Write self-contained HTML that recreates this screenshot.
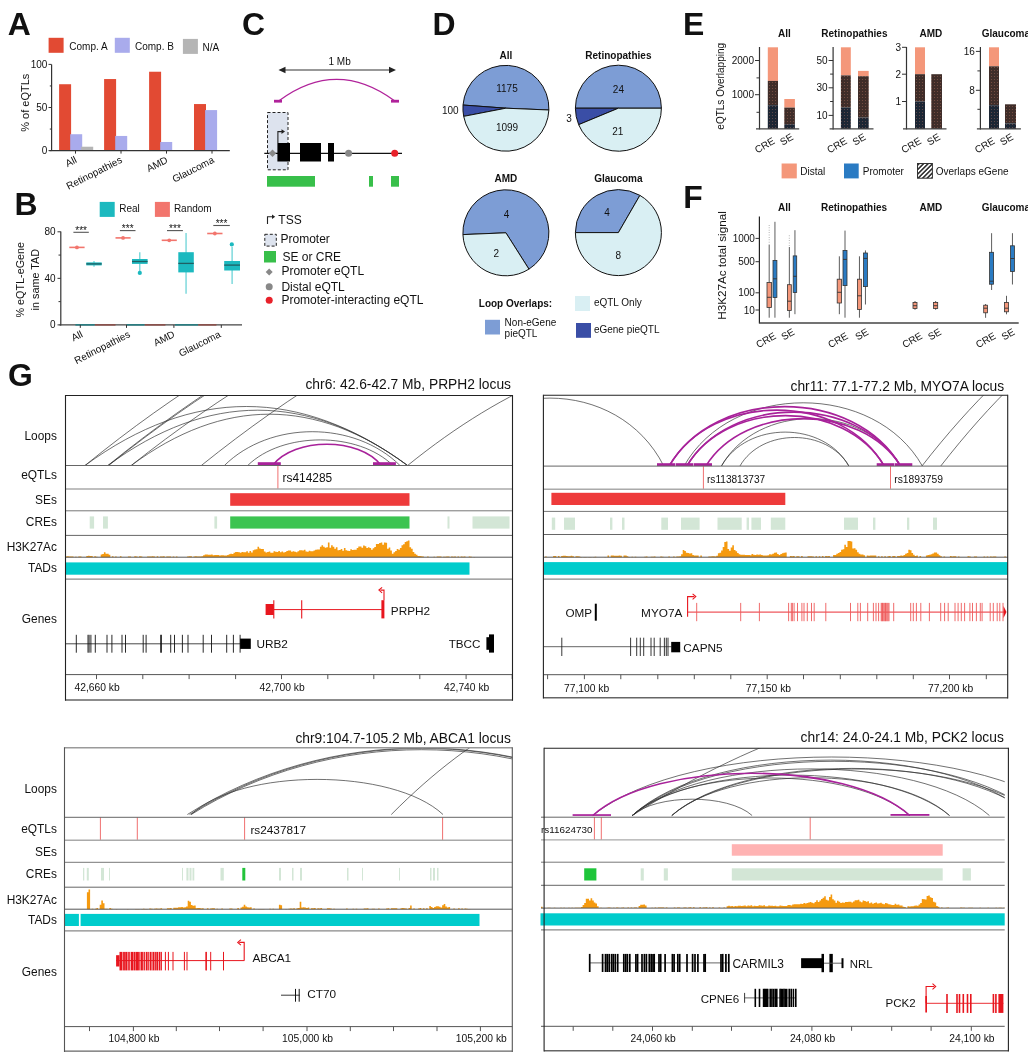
<!DOCTYPE html>
<html><head><meta charset="utf-8"><style>
html,body{margin:0;padding:0;background:#fff;width:1028px;height:1060px;overflow:hidden}
svg{display:block;font-family:"Liberation Sans", sans-serif;will-change:transform}
</style></head><body>
<svg width="1028" height="1060" viewBox="0 0 1028 1060">
<rect x="0" y="0" width="1028" height="1060" fill="#fff"/>
<text x="0" y="0" font-size="31" font-weight="bold" fill="#111" transform="translate(7.80 35.00) scale(1.03 1)">A</text>
<rect x="48.60" y="37.80" width="15.00" height="15.00" fill="#e24a33"/>
<text x="69.30" y="50.30" font-size="10" text-anchor="start" fill="#111">Comp. A</text>
<rect x="114.80" y="37.80" width="15.00" height="15.00" fill="#a9abec"/>
<text x="135.00" y="50.30" font-size="10" text-anchor="start" fill="#111">Comp. B</text>
<rect x="182.90" y="38.90" width="15.00" height="15.00" fill="#b5b5b5"/>
<text x="202.60" y="51.10" font-size="10" text-anchor="start" fill="#111">N/A</text>
<rect x="59.10" y="84.23" width="12.00" height="66.37" fill="#e24a33"/>
<rect x="70.20" y="134.22" width="12.00" height="16.38" fill="#a9abec"/>
<rect x="81.20" y="146.72" width="12.00" height="3.88" fill="#b5b5b5"/>
<rect x="104.10" y="79.05" width="12.00" height="71.55" fill="#e24a33"/>
<rect x="115.20" y="135.95" width="12.00" height="14.65" fill="#a9abec"/>
<rect x="149.10" y="71.73" width="12.00" height="78.87" fill="#e24a33"/>
<rect x="160.20" y="141.98" width="12.00" height="8.62" fill="#a9abec"/>
<rect x="194.00" y="104.05" width="12.00" height="46.55" fill="#e24a33"/>
<rect x="205.10" y="110.09" width="12.00" height="40.51" fill="#a9abec"/>
<line x1="51.60" y1="64.40" x2="51.60" y2="151.10" stroke="#333" stroke-width="1.2"/>
<line x1="49.50" y1="150.60" x2="229.80" y2="150.60" stroke="#333" stroke-width="1.2"/>
<line x1="48.50" y1="150.60" x2="51.60" y2="150.60" stroke="#333" stroke-width="1"/>
<text x="47.40" y="154.10" font-size="10" text-anchor="end" fill="#111">0</text>
<line x1="48.50" y1="107.50" x2="51.60" y2="107.50" stroke="#333" stroke-width="1"/>
<text x="47.40" y="111.00" font-size="10" text-anchor="end" fill="#111">50</text>
<line x1="48.50" y1="64.40" x2="51.60" y2="64.40" stroke="#333" stroke-width="1"/>
<text x="47.40" y="67.90" font-size="10" text-anchor="end" fill="#111">100</text>
<line x1="49.80" y1="129.05" x2="51.60" y2="129.05" stroke="#333" stroke-width="1"/>
<line x1="49.80" y1="85.95" x2="51.60" y2="85.95" stroke="#333" stroke-width="1"/>
<line x1="75.50" y1="150.60" x2="75.50" y2="153.60" stroke="#333" stroke-width="1"/>
<line x1="121.00" y1="150.60" x2="121.00" y2="153.60" stroke="#333" stroke-width="1"/>
<line x1="166.50" y1="150.60" x2="166.50" y2="153.60" stroke="#333" stroke-width="1"/>
<line x1="212.00" y1="150.60" x2="212.00" y2="153.60" stroke="#333" stroke-width="1"/>
<text x="77.50" y="162.10" font-size="10" text-anchor="end" fill="#111" transform="rotate(-27 77.50 162.10)">All</text>
<text x="123.00" y="162.10" font-size="10" text-anchor="end" fill="#111" transform="rotate(-27 123.00 162.10)">Retinopathies</text>
<text x="168.50" y="162.10" font-size="10" text-anchor="end" fill="#111" transform="rotate(-27 168.50 162.10)">AMD</text>
<text x="215.00" y="162.10" font-size="10" text-anchor="end" fill="#111" transform="rotate(-27 215.00 162.10)">Glaucoma</text>
<text x="29.50" y="102.70" font-size="11" text-anchor="middle" fill="#111" transform="rotate(-90 29.50 102.70)">% of eQTLs</text>
<text x="0" y="0" font-size="31" font-weight="bold" fill="#111" transform="translate(14.50 215.30) scale(1.03 1)">B</text>
<rect x="99.70" y="201.90" width="15.00" height="15.00" fill="#1cb9bf"/>
<text x="119.20" y="212.30" font-size="10" text-anchor="start" fill="#111">Real</text>
<rect x="154.90" y="201.90" width="15.00" height="15.00" fill="#f2756d"/>
<text x="173.90" y="212.30" font-size="10" text-anchor="start" fill="#111">Random</text>
<line x1="60.80" y1="231.50" x2="60.80" y2="325.50" stroke="#333" stroke-width="1.2"/>
<line x1="59.50" y1="324.90" x2="242.00" y2="324.90" stroke="#444" stroke-width="1.2"/>
<line x1="75.40" y1="324.90" x2="94.80" y2="324.90" stroke="#1b7f84" stroke-width="1.4"/>
<line x1="94.80" y1="324.90" x2="115.50" y2="324.90" stroke="#8f4a44" stroke-width="1.4"/>
<line x1="126.50" y1="324.90" x2="144.70" y2="324.90" stroke="#1b7f84" stroke-width="1.4"/>
<line x1="144.70" y1="324.90" x2="165.40" y2="324.90" stroke="#8f4a44" stroke-width="1.4"/>
<line x1="175.00" y1="324.90" x2="198.20" y2="324.90" stroke="#1b7f84" stroke-width="1.4"/>
<line x1="198.20" y1="324.90" x2="216.40" y2="324.90" stroke="#8f4a44" stroke-width="1.4"/>
<line x1="57.50" y1="324.90" x2="60.80" y2="324.90" stroke="#333" stroke-width="1"/>
<text x="55.60" y="328.40" font-size="10" text-anchor="end" fill="#111">0</text>
<line x1="57.50" y1="278.35" x2="60.80" y2="278.35" stroke="#333" stroke-width="1"/>
<text x="55.60" y="281.85" font-size="10" text-anchor="end" fill="#111">40</text>
<line x1="57.50" y1="231.80" x2="60.80" y2="231.80" stroke="#333" stroke-width="1"/>
<text x="55.60" y="235.30" font-size="10" text-anchor="end" fill="#111">80</text>
<line x1="58.50" y1="301.62" x2="60.80" y2="301.62" stroke="#333" stroke-width="1"/>
<line x1="58.50" y1="255.07" x2="60.80" y2="255.07" stroke="#333" stroke-width="1"/>
<line x1="80.30" y1="324.90" x2="80.30" y2="327.90" stroke="#333" stroke-width="1"/>
<line x1="126.50" y1="324.90" x2="126.50" y2="327.90" stroke="#333" stroke-width="1"/>
<line x1="173.90" y1="324.90" x2="173.90" y2="327.90" stroke="#333" stroke-width="1"/>
<line x1="221.30" y1="324.90" x2="221.30" y2="327.90" stroke="#333" stroke-width="1"/>
<line x1="69.30" y1="247.40" x2="84.60" y2="247.40" stroke="#f2756d" stroke-width="1.6"/>
<circle cx="76.95" cy="247.40" r="1.90" fill="#f2756d"/>
<line x1="115.50" y1="237.90" x2="130.60" y2="237.90" stroke="#f2756d" stroke-width="1.6"/>
<circle cx="123.05" cy="237.90" r="1.90" fill="#f2756d"/>
<line x1="161.70" y1="240.30" x2="176.80" y2="240.30" stroke="#f2756d" stroke-width="1.6"/>
<circle cx="169.25" cy="240.30" r="1.90" fill="#f2756d"/>
<line x1="207.20" y1="233.50" x2="222.50" y2="233.50" stroke="#f2756d" stroke-width="1.6"/>
<circle cx="214.85" cy="233.50" r="1.90" fill="#f2756d"/>
<line x1="94.00" y1="261.00" x2="94.00" y2="266.80" stroke="#5fd0d4" stroke-width="1.2"/>
<rect x="86.30" y="262.40" width="15.40" height="3.00" fill="#1cb9bf"/>
<line x1="86.30" y1="263.90" x2="101.70" y2="263.90" stroke="#1f5f63" stroke-width="1.3"/>
<line x1="139.80" y1="252.20" x2="139.80" y2="271.20" stroke="#5fd0d4" stroke-width="1.2"/>
<rect x="132.00" y="259.00" width="15.60" height="4.90" fill="#1cb9bf"/>
<line x1="132.00" y1="261.50" x2="147.60" y2="261.50" stroke="#1f5f63" stroke-width="1.3"/>
<circle cx="139.80" cy="272.90" r="2.10" fill="#1cb9bf"/>
<line x1="186.05" y1="233.00" x2="186.05" y2="293.80" stroke="#5fd0d4" stroke-width="1.2"/>
<rect x="178.30" y="252.20" width="15.50" height="20.20" fill="#1cb9bf"/>
<line x1="178.30" y1="263.40" x2="193.80" y2="263.40" stroke="#1f5f63" stroke-width="1.3"/>
<line x1="232.10" y1="246.90" x2="232.10" y2="284.10" stroke="#5fd0d4" stroke-width="1.2"/>
<rect x="224.20" y="261.00" width="15.80" height="9.50" fill="#1cb9bf"/>
<line x1="224.20" y1="265.10" x2="240.00" y2="265.10" stroke="#1f5f63" stroke-width="1.3"/>
<circle cx="231.80" cy="244.40" r="2.10" fill="#1cb9bf"/>
<line x1="73.40" y1="232.30" x2="88.80" y2="232.30" stroke="#555" stroke-width="1.1"/>
<text x="81.10" y="233.50" font-size="10" text-anchor="middle" fill="#111">***</text>
<line x1="119.90" y1="230.60" x2="135.50" y2="230.60" stroke="#555" stroke-width="1.1"/>
<text x="127.70" y="231.80" font-size="10" text-anchor="middle" fill="#111">***</text>
<line x1="167.00" y1="230.60" x2="182.90" y2="230.60" stroke="#555" stroke-width="1.1"/>
<text x="174.95" y="231.80" font-size="10" text-anchor="middle" fill="#111">***</text>
<line x1="213.30" y1="225.50" x2="229.80" y2="225.50" stroke="#555" stroke-width="1.1"/>
<text x="221.55" y="226.70" font-size="10" text-anchor="middle" fill="#111">***</text>
<text x="83.50" y="336.40" font-size="10" text-anchor="end" fill="#111" transform="rotate(-27 83.50 336.40)">All</text>
<text x="131.00" y="336.40" font-size="10" text-anchor="end" fill="#111" transform="rotate(-27 131.00 336.40)">Retinopathies</text>
<text x="175.50" y="336.40" font-size="10" text-anchor="end" fill="#111" transform="rotate(-27 175.50 336.40)">AMD</text>
<text x="221.50" y="336.40" font-size="10" text-anchor="end" fill="#111" transform="rotate(-27 221.50 336.40)">Glaucoma</text>
<text x="24.50" y="279.70" font-size="10.8" text-anchor="middle" fill="#111" transform="rotate(-90 24.50 279.70)">% eQTL-eGene</text>
<text x="39.00" y="279.70" font-size="10.8" text-anchor="middle" fill="#111" transform="rotate(-90 39.00 279.70)">in same TAD</text>
<text x="0" y="0" font-size="31" font-weight="bold" fill="#111" transform="translate(242.00 35.00) scale(1.03 1)">C</text>
<text x="339.60" y="65.30" font-size="10" text-anchor="middle" fill="#111">1 Mb</text>
<line x1="282.00" y1="70.00" x2="392.50" y2="70.00" stroke="#333" stroke-width="1.1"/>
<path d="M278.5,70 L285.5,66.8 L285.5,73.2 Z" stroke="none" stroke-width="1" fill="#222"/>
<path d="M396,70 L389,66.8 L389,73.2 Z" stroke="none" stroke-width="1" fill="#222"/>
<path d="M279,100.8 Q336.5,58 394.5,100.8" stroke="#b0229a" stroke-width="1.2" fill="none"/>
<rect x="274.00" y="99.80" width="8.00" height="2.80" fill="#b0229a"/>
<rect x="391.00" y="99.80" width="8.00" height="2.80" fill="#b0229a"/>
<rect x="267.50" y="112.50" width="20.50" height="57.30" fill="#dde3ee" stroke="#222" stroke-width="1" stroke-dasharray="3,2"/>
<line x1="264.30" y1="153.30" x2="402.00" y2="153.30" stroke="#111" stroke-width="1.3"/>
<rect x="277.40" y="143.00" width="12.60" height="18.50" fill="#000"/>
<rect x="300.00" y="143.00" width="21.00" height="18.50" fill="#000"/>
<rect x="328.00" y="143.00" width="6.00" height="18.50" fill="#000"/>
<path d="M277.9,143 L277.9,131.6 L282.5,131.6" stroke="#222" stroke-width="1.1" fill="none"/>
<path d="M285,131.6 L281.5,129.2 L281.5,134 Z" stroke="none" stroke-width="1" fill="#222"/>
<path d="M272.5,149.6 L276.2,153.3 L272.5,157 L268.8,153.3 Z" stroke="none" stroke-width="1" fill="#888"/>
<circle cx="348.60" cy="153.30" r="3.50" fill="#888"/>
<circle cx="394.70" cy="153.30" r="3.50" fill="#e8212a"/>
<rect x="267.00" y="176.00" width="48.00" height="10.70" fill="#38bf4a"/>
<rect x="369.00" y="176.00" width="4.00" height="10.70" fill="#38bf4a"/>
<rect x="391.00" y="176.00" width="8.00" height="10.70" fill="#38bf4a"/>
<path d="M267.5,224 L267.5,216.8 L273,216.8" stroke="#222" stroke-width="1.1" fill="none"/>
<path d="M275.2,216.8 L272,214.6 L272,219 Z" stroke="none" stroke-width="1" fill="#222"/>
<text x="278.30" y="223.80" font-size="12" text-anchor="start" fill="#111">TSS</text>
<rect x="264.80" y="234.30" width="11.50" height="11.80" fill="#dde3ee" stroke="#222" stroke-width="1" stroke-dasharray="3,2"/>
<text x="280.50" y="242.70" font-size="12" text-anchor="start" fill="#111">Promoter</text>
<rect x="264.00" y="251.00" width="12.00" height="11.50" fill="#38bf4a"/>
<text x="282.40" y="260.60" font-size="12" text-anchor="start" fill="#111">SE or CRE</text>
<path d="M269.2,268.4 L272.7,271.9 L269.2,275.4 L265.7,271.9 Z" stroke="none" stroke-width="1" fill="#888"/>
<text x="281.40" y="274.80" font-size="12" text-anchor="start" fill="#111">Promoter eQTL</text>
<circle cx="269.20" cy="286.80" r="3.50" fill="#888"/>
<text x="281.40" y="290.70" font-size="12" text-anchor="start" fill="#111">Distal eQTL</text>
<circle cx="269.20" cy="300.20" r="3.50" fill="#e8212a"/>
<text x="281.40" y="304.20" font-size="12" text-anchor="start" fill="#111">Promoter-interacting eQTL</text>
<text x="0" y="0" font-size="31" font-weight="bold" fill="#111" transform="translate(432.50 35.00) scale(1.03 1)">D</text>
<text x="505.90" y="58.70" font-size="10" text-anchor="middle" fill="#111" font-weight="bold">All</text>
<text x="618.40" y="58.70" font-size="10" text-anchor="middle" fill="#111" font-weight="bold">Retinopathies</text>
<path d="M505.90,108.20 L548.86,110.00 A43,43 0 0 0 463.02,105.04 Z" stroke="#111" stroke-width="1" fill="#7d9dd5"/>
<path d="M505.90,108.20 L463.02,105.04 A43,43 0 0 0 463.68,116.36 Z" stroke="#111" stroke-width="1" fill="#3a4ea6"/>
<path d="M505.90,108.20 L463.68,116.36 A43,43 0 0 0 548.86,110.00 Z" stroke="#111" stroke-width="1" fill="#d9eff3"/>
<path d="M618.40,108.20 L661.40,108.20 A43,43 0 0 0 575.40,108.20 Z" stroke="#111" stroke-width="1" fill="#7d9dd5"/>
<path d="M618.40,108.20 L575.40,108.20 A43,43 0 0 0 578.67,124.66 Z" stroke="#111" stroke-width="1" fill="#3a4ea6"/>
<path d="M618.40,108.20 L578.67,124.66 A43,43 0 0 0 661.40,108.20 Z" stroke="#111" stroke-width="1" fill="#d9eff3"/>
<text x="507.00" y="91.60" font-size="10" text-anchor="middle" fill="#111">1175</text>
<text x="507.00" y="130.80" font-size="10" text-anchor="middle" fill="#111">1099</text>
<text x="458.60" y="114.30" font-size="10" text-anchor="end" fill="#111">100</text>
<text x="618.40" y="92.80" font-size="10" text-anchor="middle" fill="#111">24</text>
<text x="617.70" y="134.80" font-size="10" text-anchor="middle" fill="#111">21</text>
<text x="569.00" y="121.90" font-size="10" text-anchor="middle" fill="#111">3</text>
<text x="505.90" y="181.50" font-size="10" text-anchor="middle" fill="#111" font-weight="bold">AMD</text>
<text x="618.40" y="181.50" font-size="10" text-anchor="middle" fill="#111" font-weight="bold">Glaucoma</text>
<path d="M505.90,232.80 L528.94,269.11 A43,43 0 1 0 462.94,234.60 Z" stroke="#111" stroke-width="1" fill="#7d9dd5"/>
<path d="M505.90,232.80 L462.94,234.60 A43,43 0 0 0 528.94,269.11 Z" stroke="#111" stroke-width="1" fill="#d9eff3"/>
<path d="M618.40,232.60 L639.90,195.36 A43,43 0 0 0 575.40,232.60 Z" stroke="#111" stroke-width="1" fill="#7d9dd5"/>
<path d="M618.40,232.60 L575.40,232.60 A43,43 0 1 0 639.90,195.36 Z" stroke="#111" stroke-width="1" fill="#d9eff3"/>
<text x="506.60" y="217.70" font-size="10" text-anchor="middle" fill="#111">4</text>
<text x="496.30" y="256.90" font-size="10" text-anchor="middle" fill="#111">2</text>
<text x="607.00" y="215.60" font-size="10" text-anchor="middle" fill="#111">4</text>
<text x="618.40" y="259.40" font-size="10" text-anchor="middle" fill="#111">8</text>
<text x="478.80" y="306.70" font-size="10" text-anchor="start" fill="#111" font-weight="bold">Loop Overlaps:</text>
<rect x="575.00" y="296.00" width="15.00" height="15.00" fill="#d9eff3"/>
<text x="593.90" y="306.20" font-size="10" text-anchor="start" fill="#111">eQTL Only</text>
<rect x="485.00" y="319.80" width="15.00" height="14.70" fill="#7d9dd5"/>
<text x="504.60" y="325.70" font-size="10" text-anchor="start" fill="#111">Non-eGene</text>
<text x="504.60" y="337.00" font-size="10" text-anchor="start" fill="#111">pieQTL</text>
<rect x="576.00" y="323.00" width="15.00" height="14.80" fill="#3a4ea6"/>
<text x="593.90" y="332.70" font-size="10" text-anchor="start" fill="#111">eGene pieQTL</text>
<defs><pattern id="hatch" width="3" height="3" patternUnits="userSpaceOnUse"><rect x="0" y="0" width="3" height="3" fill="none"/><circle cx="1.5" cy="1.5" r="0.55" fill="rgba(240,150,120,0.35)"/></pattern><pattern id="hatchL" width="3.2" height="3.2" patternUnits="userSpaceOnUse" patternTransform="rotate(45)"><rect width="3.2" height="3.2" fill="#fff"/><rect x="0" y="0" width="1.6" height="3.2" fill="#333"/></pattern></defs>
<text x="0" y="0" font-size="31" font-weight="bold" fill="#111" transform="translate(683.00 35.00) scale(1.03 1)">E</text>
<text x="724.50" y="86.30" font-size="10" text-anchor="middle" fill="#111" transform="rotate(-90 724.50 86.30)">eQTLs Overlapping</text>
<text x="784.30" y="36.60" font-size="10" text-anchor="middle" fill="#111" font-weight="bold">All</text>
<text x="854.40" y="36.60" font-size="10" text-anchor="middle" fill="#111" font-weight="bold">Retinopathies</text>
<text x="930.80" y="36.60" font-size="10" text-anchor="middle" fill="#111" font-weight="bold">AMD</text>
<text x="981.70" y="36.60" font-size="10" text-anchor="start" fill="#111" font-weight="bold">Glaucoma</text>
<rect x="767.80" y="47.30" width="10.20" height="33.60" fill="#f4977a"/>
<rect x="767.80" y="80.90" width="10.20" height="24.30" fill="#3f2d29"/>
<rect x="767.80" y="105.20" width="10.20" height="23.70" fill="#1c2634"/>
<rect x="767.80" y="80.90" width="10.20" height="48.00" fill="url(#hatch)"/>
<rect x="784.30" y="99.00" width="10.60" height="8.60" fill="#f4977a"/>
<rect x="784.30" y="107.60" width="10.60" height="16.60" fill="#3f2d29"/>
<rect x="784.30" y="124.20" width="10.60" height="4.70" fill="#1c2634"/>
<rect x="784.30" y="107.60" width="10.60" height="21.30" fill="url(#hatch)"/>
<line x1="759.50" y1="47.00" x2="759.50" y2="129.40" stroke="#333" stroke-width="1.2"/>
<line x1="756.00" y1="128.90" x2="799.20" y2="128.90" stroke="#444" stroke-width="1.4"/>
<line x1="755.00" y1="60.50" x2="759.50" y2="60.50" stroke="#333" stroke-width="1"/>
<text x="754.00" y="64.00" font-size="10" text-anchor="end" fill="#111">2000</text>
<line x1="755.00" y1="94.70" x2="759.50" y2="94.70" stroke="#333" stroke-width="1"/>
<text x="754.00" y="98.20" font-size="10" text-anchor="end" fill="#111">1000</text>
<line x1="756.50" y1="77.90" x2="759.50" y2="77.90" stroke="#333" stroke-width="1"/>
<line x1="756.50" y1="112.30" x2="759.50" y2="112.30" stroke="#333" stroke-width="1"/>
<rect x="840.90" y="47.30" width="9.90" height="28.10" fill="#f4977a"/>
<rect x="840.90" y="75.40" width="9.90" height="32.20" fill="#3f2d29"/>
<rect x="840.90" y="107.60" width="9.90" height="21.30" fill="#1c2634"/>
<rect x="840.90" y="75.40" width="9.90" height="53.50" fill="url(#hatch)"/>
<rect x="858.00" y="70.90" width="10.70" height="5.30" fill="#f4977a"/>
<rect x="858.00" y="76.20" width="10.70" height="41.40" fill="#3f2d29"/>
<rect x="858.00" y="117.60" width="10.70" height="11.30" fill="#1c2634"/>
<rect x="858.00" y="76.20" width="10.70" height="52.70" fill="url(#hatch)"/>
<line x1="833.10" y1="47.00" x2="833.10" y2="129.40" stroke="#333" stroke-width="1.2"/>
<line x1="829.60" y1="128.90" x2="873.50" y2="128.90" stroke="#444" stroke-width="1.4"/>
<line x1="828.60" y1="60.50" x2="833.10" y2="60.50" stroke="#333" stroke-width="1"/>
<text x="827.60" y="64.00" font-size="10" text-anchor="end" fill="#111">50</text>
<line x1="828.60" y1="87.80" x2="833.10" y2="87.80" stroke="#333" stroke-width="1"/>
<text x="827.60" y="91.30" font-size="10" text-anchor="end" fill="#111">30</text>
<line x1="828.60" y1="115.40" x2="833.10" y2="115.40" stroke="#333" stroke-width="1"/>
<text x="827.60" y="118.90" font-size="10" text-anchor="end" fill="#111">10</text>
<line x1="830.10" y1="74.10" x2="833.10" y2="74.10" stroke="#333" stroke-width="1"/>
<line x1="830.10" y1="101.50" x2="833.10" y2="101.50" stroke="#333" stroke-width="1"/>
<rect x="915.00" y="47.30" width="10.00" height="26.90" fill="#f4977a"/>
<rect x="915.00" y="74.20" width="10.00" height="27.30" fill="#3f2d29"/>
<rect x="915.00" y="101.50" width="10.00" height="27.40" fill="#1c2634"/>
<rect x="915.00" y="74.20" width="10.00" height="54.70" fill="url(#hatch)"/>
<rect x="931.30" y="74.20" width="10.70" height="54.70" fill="#3f2d29"/>
<rect x="931.30" y="74.20" width="10.70" height="54.70" fill="url(#hatch)"/>
<line x1="906.50" y1="47.00" x2="906.50" y2="129.40" stroke="#333" stroke-width="1.2"/>
<line x1="903.00" y1="128.90" x2="946.50" y2="128.90" stroke="#444" stroke-width="1.4"/>
<line x1="902.00" y1="47.30" x2="906.50" y2="47.30" stroke="#333" stroke-width="1"/>
<text x="901.00" y="50.80" font-size="10" text-anchor="end" fill="#111">3</text>
<line x1="902.00" y1="74.20" x2="906.50" y2="74.20" stroke="#333" stroke-width="1"/>
<text x="901.00" y="77.70" font-size="10" text-anchor="end" fill="#111">2</text>
<line x1="902.00" y1="101.50" x2="906.50" y2="101.50" stroke="#333" stroke-width="1"/>
<text x="901.00" y="105.00" font-size="10" text-anchor="end" fill="#111">1</text>
<rect x="989.00" y="47.30" width="10.00" height="19.00" fill="#f4977a"/>
<rect x="989.00" y="66.30" width="10.00" height="38.90" fill="#3f2d29"/>
<rect x="989.00" y="105.20" width="10.00" height="23.70" fill="#1c2634"/>
<rect x="989.00" y="66.30" width="10.00" height="62.60" fill="url(#hatch)"/>
<rect x="1005.00" y="104.30" width="11.00" height="19.10" fill="#3f2d29"/>
<rect x="1005.00" y="123.40" width="11.00" height="5.50" fill="#1c2634"/>
<rect x="1005.00" y="104.30" width="11.00" height="24.60" fill="url(#hatch)"/>
<line x1="980.40" y1="47.00" x2="980.40" y2="129.40" stroke="#333" stroke-width="1.2"/>
<line x1="976.90" y1="128.90" x2="1020.90" y2="128.90" stroke="#444" stroke-width="1.4"/>
<line x1="975.90" y1="51.40" x2="980.40" y2="51.40" stroke="#333" stroke-width="1"/>
<text x="974.90" y="54.90" font-size="10" text-anchor="end" fill="#111">16</text>
<line x1="975.90" y1="90.30" x2="980.40" y2="90.30" stroke="#333" stroke-width="1"/>
<text x="974.90" y="93.80" font-size="10" text-anchor="end" fill="#111">8</text>
<line x1="977.40" y1="70.90" x2="980.40" y2="70.90" stroke="#333" stroke-width="1"/>
<line x1="977.40" y1="109.30" x2="980.40" y2="109.30" stroke="#333" stroke-width="1"/>
<text x="775.50" y="143.00" font-size="10" text-anchor="end" fill="#111" transform="rotate(-30 775.50 143.00)">CRE</text>
<text x="794.00" y="139.00" font-size="10" text-anchor="end" fill="#111" transform="rotate(-30 794.00 139.00)">SE</text>
<text x="847.80" y="143.00" font-size="10" text-anchor="end" fill="#111" transform="rotate(-30 847.80 143.00)">CRE</text>
<text x="866.50" y="139.00" font-size="10" text-anchor="end" fill="#111" transform="rotate(-30 866.50 139.00)">SE</text>
<text x="922.00" y="143.00" font-size="10" text-anchor="end" fill="#111" transform="rotate(-30 922.00 143.00)">CRE</text>
<text x="941.00" y="139.00" font-size="10" text-anchor="end" fill="#111" transform="rotate(-30 941.00 139.00)">SE</text>
<text x="995.50" y="143.00" font-size="10" text-anchor="end" fill="#111" transform="rotate(-30 995.50 143.00)">CRE</text>
<text x="1014.00" y="139.00" font-size="10" text-anchor="end" fill="#111" transform="rotate(-30 1014.00 139.00)">SE</text>
<rect x="781.60" y="163.50" width="15.20" height="14.90" fill="#f4977a"/>
<text x="800.20" y="175.30" font-size="10" text-anchor="start" fill="#111">Distal</text>
<rect x="844.00" y="163.50" width="14.70" height="14.90" fill="#2a7bc3"/>
<text x="862.80" y="175.30" font-size="10" text-anchor="start" fill="#111">Promoter</text>
<rect x="917.50" y="163.50" width="14.90" height="14.70" fill="url(#hatchL)" stroke="#333" stroke-width="1"/>
<text x="935.70" y="175.30" font-size="10" text-anchor="start" fill="#111">Overlaps eGene</text>
<text x="0" y="0" font-size="31" font-weight="bold" fill="#111" transform="translate(683.30 208.30) scale(1.03 1)">F</text>
<text x="725.80" y="265.50" font-size="11.7" text-anchor="middle" fill="#111" transform="rotate(-90 725.80 265.50)">H3K27Ac total signal</text>
<text x="784.50" y="211.00" font-size="10" text-anchor="middle" fill="#111" font-weight="bold">All</text>
<text x="821.00" y="211.00" font-size="10" text-anchor="start" fill="#111" font-weight="bold">Retinopathies</text>
<text x="930.80" y="211.00" font-size="10" text-anchor="middle" fill="#111" font-weight="bold">AMD</text>
<text x="981.70" y="211.00" font-size="10" text-anchor="start" fill="#111" font-weight="bold">Glaucoma</text>
<line x1="769.20" y1="245.00" x2="769.20" y2="317.70" stroke="#333" stroke-width="0.8"/>
<rect x="767.00" y="282.50" width="4.40" height="24.90" fill="#f4977a" stroke="#333" stroke-width="0.8"/>
<line x1="767.00" y1="297.30" x2="771.40" y2="297.30" stroke="#333" stroke-width="0.9"/>
<line x1="774.95" y1="221.80" x2="774.95" y2="317.70" stroke="#333" stroke-width="0.8"/>
<rect x="773.00" y="260.40" width="3.90" height="37.10" fill="#2a7bc3" stroke="#333" stroke-width="0.8"/>
<line x1="773.00" y1="278.80" x2="776.90" y2="278.80" stroke="#333" stroke-width="0.9"/>
<line x1="789.35" y1="247.00" x2="789.35" y2="317.70" stroke="#333" stroke-width="0.8"/>
<rect x="787.40" y="284.70" width="3.90" height="25.70" fill="#f4977a" stroke="#333" stroke-width="0.8"/>
<line x1="787.40" y1="301.20" x2="791.30" y2="301.20" stroke="#333" stroke-width="0.9"/>
<line x1="794.95" y1="230.20" x2="794.95" y2="314.20" stroke="#333" stroke-width="0.8"/>
<rect x="793.20" y="255.90" width="3.50" height="36.60" fill="#2a7bc3" stroke="#333" stroke-width="0.8"/>
<line x1="793.20" y1="276.30" x2="796.70" y2="276.30" stroke="#333" stroke-width="0.9"/>
<line x1="839.35" y1="256.30" x2="839.35" y2="314.20" stroke="#333" stroke-width="0.8"/>
<rect x="837.20" y="279.20" width="4.30" height="23.80" fill="#f4977a" stroke="#333" stroke-width="0.8"/>
<line x1="837.20" y1="292.30" x2="841.50" y2="292.30" stroke="#333" stroke-width="0.9"/>
<line x1="845.00" y1="230.60" x2="845.00" y2="317.70" stroke="#333" stroke-width="0.8"/>
<rect x="843.00" y="250.40" width="4.00" height="35.20" fill="#2a7bc3" stroke="#333" stroke-width="0.8"/>
<line x1="843.00" y1="259.40" x2="847.00" y2="259.40" stroke="#333" stroke-width="0.9"/>
<line x1="859.45" y1="256.30" x2="859.45" y2="317.70" stroke="#333" stroke-width="0.8"/>
<rect x="857.40" y="279.20" width="4.10" height="30.20" fill="#f4977a" stroke="#333" stroke-width="0.8"/>
<line x1="857.40" y1="295.80" x2="861.50" y2="295.80" stroke="#333" stroke-width="0.9"/>
<line x1="865.45" y1="250.40" x2="865.45" y2="304.50" stroke="#333" stroke-width="0.8"/>
<rect x="863.50" y="253.00" width="3.90" height="33.60" fill="#2a7bc3" stroke="#333" stroke-width="0.8"/>
<line x1="863.50" y1="258.40" x2="867.40" y2="258.40" stroke="#333" stroke-width="0.9"/>
<line x1="915.00" y1="301.00" x2="915.00" y2="309.80" stroke="#333" stroke-width="0.8"/>
<rect x="913.00" y="302.40" width="4.00" height="6.10" fill="#f4977a" stroke="#333" stroke-width="0.8"/>
<line x1="913.00" y1="305.70" x2="917.00" y2="305.70" stroke="#333" stroke-width="0.9"/>
<line x1="935.65" y1="301.00" x2="935.65" y2="309.80" stroke="#333" stroke-width="0.8"/>
<rect x="933.60" y="302.40" width="4.10" height="6.10" fill="#f4977a" stroke="#333" stroke-width="0.8"/>
<line x1="933.60" y1="305.70" x2="937.70" y2="305.70" stroke="#333" stroke-width="0.9"/>
<line x1="985.60" y1="304.00" x2="985.60" y2="317.80" stroke="#333" stroke-width="0.8"/>
<rect x="983.70" y="305.20" width="3.80" height="7.60" fill="#f4977a" stroke="#333" stroke-width="0.8"/>
<line x1="983.70" y1="308.20" x2="987.50" y2="308.20" stroke="#333" stroke-width="0.9"/>
<line x1="991.60" y1="233.20" x2="991.60" y2="290.00" stroke="#333" stroke-width="0.8"/>
<rect x="989.60" y="252.30" width="4.00" height="31.90" fill="#2a7bc3" stroke="#333" stroke-width="0.8"/>
<line x1="989.60" y1="281.20" x2="993.60" y2="281.20" stroke="#333" stroke-width="0.9"/>
<line x1="1006.50" y1="295.80" x2="1006.50" y2="314.30" stroke="#333" stroke-width="0.8"/>
<rect x="1004.50" y="302.40" width="4.00" height="9.40" fill="#f4977a" stroke="#333" stroke-width="0.8"/>
<line x1="1004.50" y1="308.20" x2="1008.50" y2="308.20" stroke="#333" stroke-width="0.9"/>
<line x1="1012.45" y1="233.20" x2="1012.45" y2="284.50" stroke="#333" stroke-width="0.8"/>
<rect x="1010.50" y="245.80" width="3.90" height="25.70" fill="#2a7bc3" stroke="#333" stroke-width="0.8"/>
<line x1="1010.50" y1="258.50" x2="1014.40" y2="258.50" stroke="#333" stroke-width="0.9"/>
<line x1="769.20" y1="225.00" x2="769.20" y2="245.00" stroke="#999" stroke-width="0.9" stroke-dasharray="0.8,1.6"/>
<line x1="789.30" y1="235.40" x2="789.30" y2="247.00" stroke="#999" stroke-width="0.9" stroke-dasharray="0.8,1.6"/>
<line x1="759.40" y1="216.50" x2="759.40" y2="323.50" stroke="#222" stroke-width="1.2"/>
<line x1="759.40" y1="323.00" x2="1018.70" y2="323.00" stroke="#444" stroke-width="1.3"/>
<line x1="755.50" y1="238.40" x2="759.40" y2="238.40" stroke="#333" stroke-width="1"/>
<text x="754.90" y="241.90" font-size="10" text-anchor="end" fill="#111">1000</text>
<line x1="755.50" y1="261.70" x2="759.40" y2="261.70" stroke="#333" stroke-width="1"/>
<text x="754.90" y="265.20" font-size="10" text-anchor="end" fill="#111">500</text>
<line x1="755.50" y1="292.80" x2="759.40" y2="292.80" stroke="#333" stroke-width="1"/>
<text x="754.90" y="296.30" font-size="10" text-anchor="end" fill="#111">100</text>
<line x1="755.50" y1="310.00" x2="759.40" y2="310.00" stroke="#333" stroke-width="1"/>
<text x="754.90" y="313.50" font-size="10" text-anchor="end" fill="#111">10</text>
<text x="776.80" y="337.80" font-size="10" text-anchor="end" fill="#111" transform="rotate(-30 776.80 337.80)">CRE</text>
<text x="795.30" y="333.80" font-size="10" text-anchor="end" fill="#111" transform="rotate(-30 795.30 333.80)">SE</text>
<text x="848.80" y="337.80" font-size="10" text-anchor="end" fill="#111" transform="rotate(-30 848.80 337.80)">CRE</text>
<text x="869.20" y="333.80" font-size="10" text-anchor="end" fill="#111" transform="rotate(-30 869.20 333.80)">SE</text>
<text x="923.00" y="337.80" font-size="10" text-anchor="end" fill="#111" transform="rotate(-30 923.00 337.80)">CRE</text>
<text x="942.00" y="333.80" font-size="10" text-anchor="end" fill="#111" transform="rotate(-30 942.00 333.80)">SE</text>
<text x="996.50" y="337.80" font-size="10" text-anchor="end" fill="#111" transform="rotate(-30 996.50 337.80)">CRE</text>
<text x="1015.60" y="333.80" font-size="10" text-anchor="end" fill="#111" transform="rotate(-30 1015.60 333.80)">SE</text>
<text x="0" y="0" font-size="31" font-weight="bold" fill="#111" transform="translate(8.00 386.00) scale(1.03 1)">G</text>
<text x="56.90" y="440.40" font-size="11.9" text-anchor="end" fill="#111">Loops</text>
<text x="56.90" y="479.20" font-size="11.9" text-anchor="end" fill="#111">eQTLs</text>
<text x="56.90" y="503.60" font-size="11.9" text-anchor="end" fill="#111">SEs</text>
<text x="56.90" y="526.20" font-size="11.9" text-anchor="end" fill="#111">CREs</text>
<text x="56.90" y="550.70" font-size="11.9" text-anchor="end" fill="#111">H3K27Ac</text>
<text x="56.90" y="572.20" font-size="11.9" text-anchor="end" fill="#111">TADs</text>
<text x="56.90" y="622.70" font-size="11.9" text-anchor="end" fill="#111">Genes</text>
<text x="56.90" y="793.00" font-size="11.9" text-anchor="end" fill="#111">Loops</text>
<text x="56.90" y="832.50" font-size="11.9" text-anchor="end" fill="#111">eQTLs</text>
<text x="56.90" y="855.70" font-size="11.9" text-anchor="end" fill="#111">SEs</text>
<text x="56.90" y="878.00" font-size="11.9" text-anchor="end" fill="#111">CREs</text>
<text x="56.90" y="903.80" font-size="11.9" text-anchor="end" fill="#111">H3K27Ac</text>
<text x="56.90" y="924.00" font-size="11.9" text-anchor="end" fill="#111">TADs</text>
<text x="56.90" y="975.60" font-size="11.9" text-anchor="end" fill="#111">Genes</text>
<text x="511.00" y="389.00" font-size="13.8" text-anchor="end" fill="#111">chr6: 42.6-42.7 Mb, PRPH2 locus</text>
<clipPath id="c1"><rect x="65.50" y="395.50" width="447.00" height="70.00"/></clipPath>
<g clip-path="url(#c1)">
<path d="M85.00,465.50 C451.67,166.94 818.33,166.94 1185.00,465.50" stroke="#333" stroke-width="0.7" fill="none"/>
<path d="M107.90,465.50 C474.57,168.37 841.23,168.37 1207.90,465.50" stroke="#333" stroke-width="0.7" fill="none"/>
<path d="M108.60,465.50 C475.27,171.47 841.93,171.47 1208.60,465.50" stroke="#333" stroke-width="0.7" fill="none"/>
<path d="M131.20,465.50 C497.87,174.76 864.53,174.76 1231.20,465.50" stroke="#333" stroke-width="0.7" fill="none"/>
<path d="M201.30,465.50 C567.97,170.91 934.63,170.91 1301.30,465.50" stroke="#333" stroke-width="0.7" fill="none"/>
<path d="M85.00,465.50 C192.53,386.83 300.07,386.83 407.60,465.50" stroke="#333" stroke-width="0.7" fill="none"/>
<path d="M107.90,465.50 C207.80,391.77 307.70,391.77 407.60,465.50" stroke="#333" stroke-width="0.7" fill="none"/>
<path d="M131.20,465.50 C223.33,397.10 315.47,397.10 407.60,465.50" stroke="#333" stroke-width="0.7" fill="none"/>
<path d="M224.40,465.50 C270.06,420.43 354.34,420.43 400.00,465.50" stroke="#333" stroke-width="0.7" fill="none"/>
<path d="M247.70,465.50 C282.57,431.37 358.13,431.37 393.00,465.50" stroke="#333" stroke-width="0.7" fill="none"/>
<path d="M407.60,465.50 C605.07,305.38 802.53,305.38 1000.00,465.50" stroke="#333" stroke-width="0.7" fill="none"/>
<path d="M272.60,465.50 C294.32,437.23 359.48,437.23 381.20,465.50" stroke="#a8229a" stroke-width="1.6" fill="none"/>
</g>
<rect x="257.80" y="462.20" width="23.00" height="3.40" fill="#a8229a"/>
<rect x="373.00" y="462.20" width="22.90" height="3.40" fill="#a8229a"/>
<line x1="277.90" y1="465.50" x2="277.90" y2="489.00" stroke="#f07070" stroke-width="1"/>
<text x="282.60" y="481.80" font-size="11.9" text-anchor="start" fill="#111">rs414285</text>
<rect x="230.20" y="493.20" width="179.30" height="12.60" fill="#ee3b3b"/>
<rect x="89.70" y="516.40" width="4.40" height="12.20" fill="#d3e6d6"/>
<rect x="103.00" y="516.40" width="4.90" height="12.20" fill="#d3e6d6"/>
<rect x="214.40" y="516.40" width="2.70" height="12.20" fill="#d3e6d6"/>
<rect x="447.50" y="516.40" width="2.00" height="12.20" fill="#d3e6d6"/>
<rect x="472.50" y="516.40" width="37.00" height="12.20" fill="#d3e6d6"/>
<rect x="230.20" y="516.40" width="179.30" height="12.20" fill="#3cc451"/>
<path d="M65.50,557.20 L65.50,556.42 L67.10,556.42 L67.10,556.28 L68.70,556.28 L68.70,556.44 L70.30,556.44 L70.30,556.57 L71.90,556.57 L71.90,556.45 L73.50,556.45 L73.50,557.20 L75.10,557.20 L75.10,556.65 L76.70,556.65 L76.70,557.20 L78.30,557.20 L78.30,556.44 L79.90,556.44 L79.90,556.56 L81.50,556.56 L81.50,557.20 L83.10,557.20 L83.10,557.20 L84.70,557.20 L84.70,557.20 L86.30,557.20 L86.30,556.05 L87.90,556.05 L87.90,555.86 L89.50,555.86 L89.50,555.88 L91.10,555.88 L91.10,555.96 L92.70,555.96 L92.70,557.20 L94.30,557.20 L94.30,556.37 L95.90,556.37 L95.90,556.83 L97.50,556.83 L97.50,557.20 L99.10,557.20 L99.10,557.20 L100.70,557.20 L100.70,554.52 L102.30,554.52 L102.30,554.02 L103.90,554.02 L103.90,552.31 L105.50,552.31 L105.50,553.76 L107.10,553.76 L107.10,553.71 L108.70,553.71 L108.70,554.66 L110.30,554.66 L110.30,557.20 L111.90,557.20 L111.90,556.21 L113.50,556.21 L113.50,557.20 L115.10,557.20 L115.10,556.56 L116.70,556.56 L116.70,557.20 L118.30,557.20 L118.30,557.20 L119.90,557.20 L119.90,556.26 L121.50,556.26 L121.50,557.20 L123.10,557.20 L123.10,557.20 L124.70,557.20 L124.70,557.20 L126.30,557.20 L126.30,557.20 L127.90,557.20 L127.90,556.55 L129.50,556.55 L129.50,556.57 L131.10,556.57 L131.10,557.20 L132.70,557.20 L132.70,557.20 L134.30,557.20 L134.30,556.31 L135.90,556.31 L135.90,556.53 L137.50,556.53 L137.50,557.20 L139.10,557.20 L139.10,556.36 L140.70,556.36 L140.70,556.60 L142.30,556.60 L142.30,557.20 L143.90,557.20 L143.90,557.20 L145.50,557.20 L145.50,557.20 L147.10,557.20 L147.10,556.62 L148.70,556.62 L148.70,556.58 L150.30,556.58 L150.30,556.54 L151.90,556.54 L151.90,556.35 L153.50,556.35 L153.50,556.47 L155.10,556.47 L155.10,557.20 L156.70,557.20 L156.70,556.36 L158.30,556.36 L158.30,557.20 L159.90,557.20 L159.90,556.40 L161.50,556.40 L161.50,556.57 L163.10,556.57 L163.10,556.35 L164.70,556.35 L164.70,557.20 L166.30,557.20 L166.30,556.62 L167.90,556.62 L167.90,556.55 L169.50,556.55 L169.50,556.54 L171.10,556.54 L171.10,557.20 L172.70,557.20 L172.70,556.56 L174.30,556.56 L174.30,557.20 L175.90,557.20 L175.90,556.43 L177.50,556.43 L177.50,557.20 L179.10,557.20 L179.10,557.20 L180.70,557.20 L180.70,557.20 L182.30,557.20 L182.30,557.20 L183.90,557.20 L183.90,557.20 L185.50,557.20 L185.50,557.20 L187.10,557.20 L187.10,556.47 L188.70,556.47 L188.70,556.26 L190.30,556.26 L190.30,556.35 L191.90,556.35 L191.90,557.20 L193.50,557.20 L193.50,556.58 L195.10,556.58 L195.10,556.34 L196.70,556.34 L196.70,556.57 L198.30,556.57 L198.30,556.41 L199.90,556.41 L199.90,556.46 L201.50,556.46 L201.50,556.13 L203.10,556.13 L203.10,555.15 L204.70,555.15 L204.70,554.38 L206.30,554.38 L206.30,554.51 L207.90,554.51 L207.90,554.63 L209.50,554.63 L209.50,554.63 L211.10,554.63 L211.10,554.60 L212.70,554.60 L212.70,555.22 L214.30,555.22 L214.30,555.00 L215.90,555.00 L215.90,554.90 L217.50,554.90 L217.50,555.02 L219.10,555.02 L219.10,555.47 L220.70,555.47 L220.70,555.27 L222.30,555.27 L222.30,555.30 L223.90,555.30 L223.90,555.60 L225.50,555.60 L225.50,555.43 L227.10,555.43 L227.10,555.07 L228.70,555.07 L228.70,554.28 L230.30,554.28 L230.30,553.64 L231.90,553.64 L231.90,553.97 L233.50,553.97 L233.50,552.83 L235.10,552.83 L235.10,552.04 L236.70,552.04 L236.70,552.11 L238.30,552.11 L238.30,552.27 L239.90,552.27 L239.90,552.82 L241.50,552.82 L241.50,551.98 L243.10,551.98 L243.10,552.17 L244.70,552.17 L244.70,552.35 L246.30,552.35 L246.30,551.24 L247.90,551.24 L247.90,552.78 L249.50,552.78 L249.50,550.94 L251.10,550.94 L251.10,552.54 L252.70,552.54 L252.70,550.35 L254.30,550.35 L254.30,549.43 L255.90,549.43 L255.90,549.16 L257.50,549.16 L257.50,546.65 L259.10,546.65 L259.10,548.47 L260.70,548.47 L260.70,549.03 L262.30,549.03 L262.30,548.99 L263.90,548.99 L263.90,551.38 L265.50,551.38 L265.50,552.39 L267.10,552.39 L267.10,551.98 L268.70,551.98 L268.70,551.46 L270.30,551.46 L270.30,552.85 L271.90,552.85 L271.90,552.87 L273.50,552.87 L273.50,551.17 L275.10,551.17 L275.10,551.67 L276.70,551.67 L276.70,552.11 L278.30,552.11 L278.30,551.01 L279.90,551.01 L279.90,552.28 L281.50,552.28 L281.50,551.42 L283.10,551.42 L283.10,552.48 L284.70,552.48 L284.70,551.88 L286.30,551.88 L286.30,550.91 L287.90,550.91 L287.90,550.58 L289.50,550.58 L289.50,550.60 L291.10,550.60 L291.10,551.79 L292.70,551.79 L292.70,551.23 L294.30,551.23 L294.30,551.86 L295.90,551.86 L295.90,552.28 L297.50,552.28 L297.50,551.29 L299.10,551.29 L299.10,550.34 L300.70,550.34 L300.70,550.23 L302.30,550.23 L302.30,550.47 L303.90,550.47 L303.90,549.70 L305.50,549.70 L305.50,551.46 L307.10,551.46 L307.10,551.67 L308.70,551.67 L308.70,550.76 L310.30,550.76 L310.30,551.17 L311.90,551.17 L311.90,551.26 L313.50,551.26 L313.50,550.56 L315.10,550.56 L315.10,549.77 L316.70,549.77 L316.70,549.49 L318.30,549.49 L318.30,549.47 L319.90,549.47 L319.90,546.74 L321.50,546.74 L321.50,545.34 L323.10,545.34 L323.10,546.76 L324.70,546.76 L324.70,547.75 L326.30,547.75 L326.30,547.21 L327.90,547.21 L327.90,542.59 L329.50,542.59 L329.50,547.82 L331.10,547.82 L331.10,545.24 L332.70,545.24 L332.70,546.73 L334.30,546.73 L334.30,548.64 L335.90,548.64 L335.90,547.15 L337.50,547.15 L337.50,550.30 L339.10,550.30 L339.10,549.99 L340.70,549.99 L340.70,548.94 L342.30,548.94 L342.30,550.66 L343.90,550.66 L343.90,547.91 L345.50,547.91 L345.50,550.17 L347.10,550.17 L347.10,550.64 L348.70,550.64 L348.70,551.09 L350.30,551.09 L350.30,549.31 L351.90,549.31 L351.90,550.06 L353.50,550.06 L353.50,549.64 L355.10,549.64 L355.10,549.66 L356.70,549.66 L356.70,548.10 L358.30,548.10 L358.30,546.41 L359.90,546.41 L359.90,546.45 L361.50,546.45 L361.50,547.74 L363.10,547.74 L363.10,545.47 L364.70,545.47 L364.70,546.19 L366.30,546.19 L366.30,548.02 L367.90,548.02 L367.90,547.22 L369.50,547.22 L369.50,547.90 L371.10,547.90 L371.10,549.68 L372.70,549.68 L372.70,548.33 L374.30,548.33 L374.30,546.99 L375.90,546.99 L375.90,544.10 L377.50,544.10 L377.50,543.93 L379.10,543.93 L379.10,543.10 L380.70,543.10 L380.70,542.39 L382.30,542.39 L382.30,544.63 L383.90,544.63 L383.90,542.44 L385.50,542.44 L385.50,542.63 L387.10,542.63 L387.10,548.77 L388.70,548.77 L388.70,547.39 L390.30,547.39 L390.30,550.41 L391.90,550.41 L391.90,553.74 L393.50,553.74 L393.50,552.36 L395.10,552.36 L395.10,550.93 L396.70,550.93 L396.70,549.01 L398.30,549.01 L398.30,549.69 L399.90,549.69 L399.90,547.99 L401.50,547.99 L401.50,545.30 L403.10,545.30 L403.10,544.22 L404.70,544.22 L404.70,541.95 L406.30,541.95 L406.30,541.21 L407.90,541.21 L407.90,540.56 L409.50,540.56 L409.50,547.34 L411.10,547.34 L411.10,548.64 L412.70,548.64 L412.70,551.96 L414.30,551.96 L414.30,553.78 L415.90,553.78 L415.90,554.72 L417.50,554.72 L417.50,556.06 L419.10,556.06 L419.10,556.03 L420.70,556.03 L420.70,556.28 L422.30,556.28 L422.30,556.41 L423.90,556.41 L423.90,557.20 L425.50,557.20 L425.50,557.20 L427.10,557.20 L427.10,556.49 L428.70,556.49 L428.70,557.20 L430.30,557.20 L430.30,557.20 L431.90,557.20 L431.90,557.20 L433.50,557.20 L433.50,556.64 L435.10,556.64 L435.10,557.20 L436.70,557.20 L436.70,556.60 L438.30,556.60 L438.30,556.51 L439.90,556.51 L439.90,556.48 L441.50,556.48 L441.50,557.20 L443.10,557.20 L443.10,556.67 L444.70,556.67 L444.70,556.66 L446.30,556.66 L446.30,556.56 L447.90,556.56 L447.90,556.51 L449.50,556.51 L449.50,557.20 L451.10,557.20 L451.10,556.51 L452.70,556.51 L452.70,556.68 L454.30,556.68 L454.30,556.48 L455.90,556.48 L455.90,557.20 L457.50,557.20 L457.50,556.59 L459.10,556.59 L459.10,557.20 L460.70,557.20 L460.70,556.48 L462.30,556.48 L462.30,556.63 L463.90,556.63 L463.90,556.58 L465.50,556.58 L465.50,557.20 L467.10,557.20 L467.10,557.20 L468.70,557.20 L468.70,556.48 L470.30,556.48 L470.30,556.69 L471.90,556.69 L471.90,557.20 L473.50,557.20 L473.50,556.99 L475.10,556.99 L475.00,557.20 Z" stroke="none" stroke-width="1" fill="#f59a0f"/>
<rect x="65.50" y="562.40" width="404.00" height="12.30" fill="#00cccc"/>
<line x1="65.50" y1="465.50" x2="512.50" y2="465.50" stroke="#666" stroke-width="1"/>
<line x1="65.50" y1="489.00" x2="512.50" y2="489.00" stroke="#aaa" stroke-width="1.4"/>
<line x1="65.50" y1="510.80" x2="512.50" y2="510.80" stroke="#777" stroke-width="1"/>
<line x1="65.50" y1="535.40" x2="512.50" y2="535.40" stroke="#666" stroke-width="1"/>
<line x1="65.50" y1="557.20" x2="512.50" y2="557.20" stroke="#555" stroke-width="1"/>
<line x1="65.50" y1="579.10" x2="512.50" y2="579.10" stroke="#888" stroke-width="1.2"/>
<line x1="65.50" y1="643.80" x2="240.50" y2="643.80" stroke="#333" stroke-width="0.9"/>
<line x1="76.30" y1="634.80" x2="76.30" y2="652.70" stroke="#111" stroke-width="0.9"/>
<line x1="88.00" y1="634.80" x2="88.00" y2="652.70" stroke="#111" stroke-width="0.9"/>
<line x1="89.10" y1="634.80" x2="89.10" y2="652.70" stroke="#111" stroke-width="0.9"/>
<line x1="90.90" y1="634.80" x2="90.90" y2="652.70" stroke="#111" stroke-width="0.9"/>
<line x1="95.30" y1="634.80" x2="95.30" y2="652.70" stroke="#111" stroke-width="0.9"/>
<line x1="107.00" y1="634.80" x2="107.00" y2="652.70" stroke="#111" stroke-width="0.9"/>
<line x1="111.90" y1="634.80" x2="111.90" y2="652.70" stroke="#111" stroke-width="0.9"/>
<line x1="122.00" y1="634.80" x2="122.00" y2="652.70" stroke="#111" stroke-width="0.9"/>
<line x1="125.50" y1="634.80" x2="125.50" y2="652.70" stroke="#111" stroke-width="0.9"/>
<line x1="143.20" y1="634.80" x2="143.20" y2="652.70" stroke="#111" stroke-width="0.9"/>
<line x1="146.10" y1="634.80" x2="146.10" y2="652.70" stroke="#111" stroke-width="0.9"/>
<line x1="160.70" y1="634.80" x2="160.70" y2="652.70" stroke="#111" stroke-width="0.9"/>
<line x1="161.40" y1="634.80" x2="161.40" y2="652.70" stroke="#111" stroke-width="0.9"/>
<line x1="170.70" y1="634.80" x2="170.70" y2="652.70" stroke="#111" stroke-width="0.9"/>
<line x1="174.50" y1="634.80" x2="174.50" y2="652.70" stroke="#111" stroke-width="0.9"/>
<line x1="182.40" y1="634.80" x2="182.40" y2="652.70" stroke="#111" stroke-width="0.9"/>
<line x1="188.00" y1="634.80" x2="188.00" y2="652.70" stroke="#111" stroke-width="0.9"/>
<line x1="203.20" y1="634.80" x2="203.20" y2="652.70" stroke="#111" stroke-width="0.9"/>
<line x1="211.50" y1="634.80" x2="211.50" y2="652.70" stroke="#111" stroke-width="0.9"/>
<line x1="226.70" y1="634.80" x2="226.70" y2="652.70" stroke="#111" stroke-width="0.9"/>
<line x1="233.40" y1="634.80" x2="233.40" y2="652.70" stroke="#111" stroke-width="0.9"/>
<line x1="240.10" y1="634.80" x2="240.10" y2="652.70" stroke="#111" stroke-width="0.9"/>
<rect x="240.10" y="638.60" width="10.70" height="10.30" fill="#000"/>
<text x="256.40" y="647.80" font-size="11.8" text-anchor="start" fill="#111">URB2</text>
<line x1="273.60" y1="609.60" x2="384.00" y2="609.60" stroke="#e8161e" stroke-width="1"/>
<rect x="265.60" y="604.00" width="8.30" height="11.00" fill="#e8161e"/>
<line x1="273.80" y1="600.20" x2="273.80" y2="618.40" stroke="#e8161e" stroke-width="1.1"/>
<line x1="301.70" y1="600.20" x2="301.70" y2="618.40" stroke="#e8161e" stroke-width="1.1"/>
<rect x="381.40" y="600.20" width="3.00" height="18.20" fill="#e8161e"/>
<path d="M384.00,600.20 L384.00,590.10 L380.40,590.10" stroke="#e8161e" stroke-width="1.1" fill="none"/>
<path d="M382.10,587.30 L378.90,590.10 L382.10,592.90" stroke="#e8161e" stroke-width="1.1" fill="none"/>
<text x="390.80" y="614.60" font-size="11.8" text-anchor="start" fill="#111">PRPH2</text>
<rect x="486.40" y="637.20" width="3.10" height="12.60" fill="#000"/>
<rect x="489.00" y="634.40" width="5.00" height="18.20" fill="#000"/>
<text x="480.50" y="648.30" font-size="11.7" text-anchor="end" fill="#111">TBCC</text>
<line x1="65.50" y1="674.60" x2="512.50" y2="674.60" stroke="#555" stroke-width="1"/>
<line x1="96.50" y1="674.60" x2="96.50" y2="679.10" stroke="#555" stroke-width="1"/>
<line x1="142.80" y1="674.60" x2="142.80" y2="679.10" stroke="#555" stroke-width="1"/>
<line x1="189.10" y1="674.60" x2="189.10" y2="679.10" stroke="#555" stroke-width="1"/>
<line x1="235.60" y1="674.60" x2="235.60" y2="679.10" stroke="#555" stroke-width="1"/>
<line x1="281.50" y1="674.60" x2="281.50" y2="679.10" stroke="#555" stroke-width="1"/>
<line x1="327.80" y1="674.60" x2="327.80" y2="679.10" stroke="#555" stroke-width="1"/>
<line x1="373.80" y1="674.60" x2="373.80" y2="679.10" stroke="#555" stroke-width="1"/>
<line x1="419.80" y1="674.60" x2="419.80" y2="679.10" stroke="#555" stroke-width="1"/>
<line x1="466.10" y1="674.60" x2="466.10" y2="679.10" stroke="#555" stroke-width="1"/>
<line x1="512.20" y1="674.60" x2="512.20" y2="679.10" stroke="#555" stroke-width="1"/>
<text x="97.10" y="691.00" font-size="10.3" text-anchor="middle" fill="#111">42,660 kb</text>
<text x="282.10" y="691.00" font-size="10.3" text-anchor="middle" fill="#111">42,700 kb</text>
<text x="466.70" y="691.00" font-size="10.3" text-anchor="middle" fill="#111">42,740 kb</text>
<line x1="65.50" y1="395.50" x2="512.50" y2="395.50" stroke="#222" stroke-width="1.1"/>
<line x1="65.50" y1="700.00" x2="512.50" y2="700.00" stroke="#666" stroke-width="1.5"/>
<line x1="65.50" y1="395.00" x2="65.50" y2="700.70" stroke="#222" stroke-width="1.1"/>
<line x1="512.50" y1="395.00" x2="512.50" y2="700.70" stroke="#222" stroke-width="1.1"/>
<text x="1004.20" y="390.60" font-size="13.8" text-anchor="end" fill="#111">chr11: 77.1-77.2 Mb, MYO7A locus</text>
<clipPath id="c2"><rect x="543.40" y="395.20" width="464.30" height="70.90"/></clipPath>
<g clip-path="url(#c2)">
<path d="M436.00,466.10 C481.56,375.43 618.24,375.43 663.80,466.10" stroke="#333" stroke-width="0.7" fill="none"/>
<path d="M684.00,466.10 C731.68,381.70 874.72,381.70 922.40,466.10" stroke="#333" stroke-width="0.7" fill="none"/>
<path d="M721.40,466.10 C757.24,402.77 864.76,402.77 900.60,466.10" stroke="#333" stroke-width="0.7" fill="none"/>
<path d="M721.40,466.10 C746.90,420.77 823.40,420.77 848.90,466.10" stroke="#333" stroke-width="0.7" fill="none"/>
<path d="M739.90,466.10 C761.70,427.97 827.10,427.97 848.90,466.10" stroke="#333" stroke-width="0.7" fill="none"/>
<path d="M921.90,466.10 C1121.90,209.20 1321.90,209.20 1521.90,466.10" stroke="#333" stroke-width="0.7" fill="none"/>
<path d="M940.70,466.10 C1140.70,209.20 1340.70,209.20 1540.70,466.10" stroke="#333" stroke-width="0.7" fill="none"/>
<path d="M669.10,466.10 C712.14,391.43 841.26,391.43 884.30,466.10" stroke="#a8229a" stroke-width="1.6" fill="none"/>
<path d="M669.10,466.10 C715.40,386.77 854.30,386.77 900.60,466.10" stroke="#a8229a" stroke-width="1.6" fill="none"/>
<path d="M686.80,466.10 C726.30,398.77 844.80,398.77 884.30,466.10" stroke="#a8229a" stroke-width="1.6" fill="none"/>
<path d="M686.80,466.10 C729.56,394.10 857.84,394.10 900.60,466.10" stroke="#a8229a" stroke-width="1.6" fill="none"/>
<path d="M705.80,466.10 C744.76,402.77 861.64,402.77 900.60,466.10" stroke="#a8229a" stroke-width="1.6" fill="none"/>
</g>
<rect x="657.00" y="463.20" width="18.40" height="2.90" fill="#a8229a"/>
<rect x="676.00" y="463.20" width="17.40" height="2.90" fill="#a8229a"/>
<rect x="694.00" y="463.20" width="18.00" height="2.90" fill="#a8229a"/>
<rect x="876.70" y="463.20" width="17.50" height="2.90" fill="#a8229a"/>
<rect x="894.70" y="463.20" width="17.60" height="2.90" fill="#a8229a"/>
<line x1="703.40" y1="466.10" x2="703.40" y2="489.20" stroke="#f07070" stroke-width="1"/>
<text x="707.00" y="483.10" font-size="10.1" text-anchor="start" fill="#111">rs113813737</text>
<line x1="890.50" y1="466.10" x2="890.50" y2="489.20" stroke="#f07070" stroke-width="1"/>
<text x="894.30" y="483.10" font-size="10.3" text-anchor="start" fill="#111">rs1893759</text>
<rect x="551.40" y="492.80" width="233.90" height="12.20" fill="#ee3b3b"/>
<rect x="551.80" y="517.60" width="3.40" height="12.20" fill="#d3e6d6"/>
<rect x="564.00" y="517.60" width="11.00" height="12.20" fill="#d3e6d6"/>
<rect x="610.00" y="517.60" width="2.40" height="12.20" fill="#d3e6d6"/>
<rect x="622.00" y="517.60" width="2.50" height="12.20" fill="#d3e6d6"/>
<rect x="661.30" y="517.60" width="6.70" height="12.20" fill="#d3e6d6"/>
<rect x="681.00" y="517.60" width="18.60" height="12.20" fill="#d3e6d6"/>
<rect x="717.50" y="517.60" width="24.20" height="12.20" fill="#d3e6d6"/>
<rect x="746.60" y="517.60" width="2.40" height="12.20" fill="#d3e6d6"/>
<rect x="751.40" y="517.60" width="9.60" height="12.20" fill="#d3e6d6"/>
<rect x="770.80" y="517.60" width="14.50" height="12.20" fill="#d3e6d6"/>
<rect x="844.00" y="517.60" width="14.00" height="12.20" fill="#d3e6d6"/>
<rect x="873.00" y="517.60" width="2.40" height="12.20" fill="#d3e6d6"/>
<rect x="907.00" y="517.60" width="2.30" height="12.20" fill="#d3e6d6"/>
<rect x="933.00" y="517.60" width="4.00" height="12.20" fill="#d3e6d6"/>
<path d="M543.50,557.20 L543.50,557.20 L545.10,557.20 L545.10,556.40 L546.70,556.40 L546.70,557.20 L548.30,557.20 L548.30,557.20 L549.90,557.20 L549.90,557.20 L551.50,557.20 L551.50,557.20 L553.10,557.20 L553.10,556.10 L554.70,556.10 L554.70,556.05 L556.30,556.05 L556.30,557.20 L557.90,557.20 L557.90,555.93 L559.50,555.93 L559.50,557.20 L561.10,557.20 L561.10,555.92 L562.70,555.92 L562.70,555.87 L564.30,555.87 L564.30,555.85 L565.90,555.85 L565.90,555.97 L567.50,555.97 L567.50,556.18 L569.10,556.18 L569.10,556.14 L570.70,556.14 L570.70,555.81 L572.30,555.81 L572.30,556.21 L573.90,556.21 L573.90,557.20 L575.50,557.20 L575.50,556.25 L577.10,556.25 L577.10,556.27 L578.70,556.27 L578.70,556.51 L580.30,556.51 L580.30,556.91 L581.90,556.91 L581.90,557.20 L583.50,557.20 L583.50,556.92 L585.10,556.92 L585.10,556.93 L586.70,556.93 L586.70,557.20 L588.30,557.20 L588.30,556.88 L589.90,556.88 L589.90,556.95 L591.50,556.95 L591.50,557.20 L593.10,557.20 L593.10,556.91 L594.70,556.91 L594.70,556.84 L596.30,556.84 L596.30,557.20 L597.90,557.20 L597.90,557.20 L599.50,557.20 L599.50,557.20 L601.10,557.20 L601.10,557.20 L602.70,557.20 L602.70,557.20 L604.30,557.20 L604.30,556.90 L605.90,556.90 L605.90,557.20 L607.50,557.20 L607.50,555.57 L609.10,555.57 L609.10,557.20 L610.70,557.20 L610.70,555.48 L612.30,555.48 L612.30,555.42 L613.90,555.42 L613.90,555.73 L615.50,555.73 L615.50,555.70 L617.10,555.70 L617.10,555.64 L618.70,555.64 L618.70,555.54 L620.30,555.54 L620.30,555.72 L621.90,555.72 L621.90,557.20 L623.50,557.20 L623.50,555.51 L625.10,555.51 L625.10,555.53 L626.70,555.53 L626.70,556.28 L628.30,556.28 L628.30,556.88 L629.90,556.88 L629.90,557.20 L631.50,557.20 L631.50,556.83 L633.10,556.83 L633.10,557.20 L634.70,557.20 L634.70,556.84 L636.30,556.84 L636.30,557.20 L637.90,557.20 L637.90,557.20 L639.50,557.20 L639.50,557.20 L641.10,557.20 L641.10,557.20 L642.70,557.20 L642.70,557.20 L644.30,557.20 L644.30,556.71 L645.90,556.71 L645.90,556.56 L647.50,556.56 L647.50,557.20 L649.10,557.20 L649.10,557.20 L650.70,557.20 L650.70,556.70 L652.30,556.70 L652.30,556.64 L653.90,556.64 L653.90,556.54 L655.50,556.54 L655.50,557.20 L657.10,557.20 L657.10,557.20 L658.70,557.20 L658.70,557.20 L660.30,557.20 L660.30,556.44 L661.90,556.44 L661.90,556.67 L663.50,556.67 L663.50,557.20 L665.10,557.20 L665.10,557.20 L666.70,557.20 L666.70,557.20 L668.30,557.20 L668.30,556.45 L669.90,556.45 L669.90,557.20 L671.50,557.20 L671.50,557.20 L673.10,557.20 L673.10,556.50 L674.70,556.50 L674.70,557.20 L676.30,557.20 L676.30,556.47 L677.90,556.47 L677.90,556.53 L679.50,556.53 L679.50,556.27 L681.10,556.27 L681.10,554.35 L682.70,554.35 L682.70,549.95 L684.30,549.95 L684.30,551.09 L685.90,551.09 L685.90,552.83 L687.50,552.83 L687.50,553.03 L689.10,553.03 L689.10,553.61 L690.70,553.61 L690.70,553.27 L692.30,553.27 L692.30,555.11 L693.90,555.11 L693.90,555.57 L695.50,555.57 L695.50,555.49 L697.10,555.49 L697.10,555.39 L698.70,555.39 L698.70,557.20 L700.30,557.20 L700.30,555.52 L701.90,555.52 L701.90,557.20 L703.50,557.20 L703.50,557.20 L705.10,557.20 L705.10,557.20 L706.70,557.20 L706.70,557.20 L708.30,557.20 L708.30,556.54 L709.90,556.54 L709.90,556.59 L711.50,556.59 L711.50,556.28 L713.10,556.28 L713.10,556.32 L714.70,556.32 L714.70,556.46 L716.30,556.46 L716.30,555.71 L717.90,555.71 L717.90,553.34 L719.50,553.34 L719.50,552.77 L721.10,552.77 L721.10,550.44 L722.70,550.44 L722.70,547.09 L724.30,547.09 L724.30,541.97 L725.90,541.97 L725.90,541.47 L727.50,541.47 L727.50,549.00 L729.10,549.00 L729.10,550.70 L730.70,550.70 L730.70,547.38 L732.30,547.38 L732.30,545.21 L733.90,545.21 L733.90,549.90 L735.50,549.90 L735.50,551.26 L737.10,551.26 L737.10,553.08 L738.70,553.08 L738.70,554.29 L740.30,554.29 L740.30,554.83 L741.90,554.83 L741.90,554.82 L743.50,554.82 L743.50,554.87 L745.10,554.87 L745.10,555.11 L746.70,555.11 L746.70,555.07 L748.30,555.07 L748.30,555.04 L749.90,555.04 L749.90,555.17 L751.50,555.17 L751.50,554.11 L753.10,554.11 L753.10,554.75 L754.70,554.75 L754.70,555.01 L756.30,555.01 L756.30,554.57 L757.90,554.57 L757.90,554.77 L759.50,554.77 L759.50,554.39 L761.10,554.39 L761.10,554.91 L762.70,554.91 L762.70,555.42 L764.30,555.42 L764.30,555.54 L765.90,555.54 L765.90,555.54 L767.50,555.54 L767.50,555.21 L769.10,555.21 L769.10,554.33 L770.70,554.33 L770.70,554.52 L772.30,554.52 L772.30,553.81 L773.90,553.81 L773.90,552.86 L775.50,552.86 L775.50,552.57 L777.10,552.57 L777.10,554.02 L778.70,554.02 L778.70,554.89 L780.30,554.89 L780.30,553.95 L781.90,553.95 L781.90,553.35 L783.50,553.35 L783.50,552.87 L785.10,552.87 L785.10,552.39 L786.70,552.39 L786.70,557.20 L788.30,557.20 L788.30,557.20 L789.90,557.20 L789.90,555.98 L791.50,555.98 L791.50,556.37 L793.10,556.37 L793.10,556.07 L794.70,556.07 L794.70,557.20 L796.30,557.20 L796.30,556.25 L797.90,556.25 L797.90,556.16 L799.50,556.16 L799.50,557.20 L801.10,557.20 L801.10,556.12 L802.70,556.12 L802.70,557.20 L804.30,557.20 L804.30,557.20 L805.90,557.20 L805.90,557.20 L807.50,557.20 L807.50,556.22 L809.10,556.22 L809.10,556.32 L810.70,556.32 L810.70,556.14 L812.30,556.14 L812.30,556.41 L813.90,556.41 L813.90,557.20 L815.50,557.20 L815.50,556.31 L817.10,556.31 L817.10,557.20 L818.70,557.20 L818.70,556.24 L820.30,556.24 L820.30,557.20 L821.90,557.20 L821.90,556.02 L823.50,556.02 L823.50,557.20 L825.10,557.20 L825.10,556.04 L826.70,556.04 L826.70,556.32 L828.30,556.32 L828.30,556.12 L829.90,556.12 L829.90,557.20 L831.50,557.20 L831.50,557.20 L833.10,557.20 L833.10,555.07 L834.70,555.07 L834.70,554.99 L836.30,554.99 L836.30,553.81 L837.90,553.81 L837.90,553.01 L839.50,553.01 L839.50,551.99 L841.10,551.99 L841.10,549.71 L842.70,549.71 L842.70,549.13 L844.30,549.13 L844.30,544.72 L845.90,544.72 L845.90,546.88 L847.50,546.88 L847.50,541.09 L849.10,541.09 L849.10,541.11 L850.70,541.11 L850.70,541.43 L852.30,541.43 L852.30,548.39 L853.90,548.39 L853.90,548.32 L855.50,548.32 L855.50,549.70 L857.10,549.70 L857.10,552.36 L858.70,552.36 L858.70,553.76 L860.30,553.76 L860.30,554.44 L861.90,554.44 L861.90,554.51 L863.50,554.51 L863.50,555.30 L865.10,555.30 L865.10,557.20 L866.70,557.20 L866.70,555.44 L868.30,555.44 L868.30,555.79 L869.90,555.79 L869.90,555.41 L871.50,555.41 L871.50,555.59 L873.10,555.59 L873.10,555.56 L874.70,555.56 L874.70,555.54 L876.30,555.54 L876.30,557.20 L877.90,557.20 L877.90,556.14 L879.50,556.14 L879.50,557.20 L881.10,557.20 L881.10,556.20 L882.70,556.20 L882.70,557.20 L884.30,557.20 L884.30,556.26 L885.90,556.26 L885.90,557.20 L887.50,557.20 L887.50,556.26 L889.10,556.26 L889.10,555.98 L890.70,555.98 L890.70,557.20 L892.30,557.20 L892.30,555.97 L893.90,555.97 L893.90,556.05 L895.50,556.05 L895.50,557.20 L897.10,557.20 L897.10,555.92 L898.70,555.92 L898.70,556.01 L900.30,556.01 L900.30,555.49 L901.90,555.49 L901.90,555.72 L903.50,555.72 L903.50,555.09 L905.10,555.09 L905.10,553.75 L906.70,553.75 L906.70,553.10 L908.30,553.10 L908.30,549.68 L909.90,549.68 L909.90,550.18 L911.50,550.18 L911.50,553.09 L913.10,553.09 L913.10,554.85 L914.70,554.85 L914.70,556.01 L916.30,556.01 L916.30,555.59 L917.90,555.59 L917.90,557.20 L919.50,557.20 L919.50,555.89 L921.10,555.89 L921.10,557.20 L922.70,557.20 L922.70,557.20 L924.30,557.20 L924.30,557.20 L925.90,557.20 L925.90,555.56 L927.50,555.56 L927.50,555.05 L929.10,555.05 L929.10,554.68 L930.70,554.68 L930.70,554.26 L932.30,554.26 L932.30,553.48 L933.90,553.48 L933.90,552.50 L935.50,552.50 L935.50,552.50 L937.10,552.50 L937.10,553.72 L938.70,553.72 L938.70,555.16 L940.30,555.16 L940.30,556.29 L941.90,556.29 L941.90,557.20 L943.50,557.20 L943.50,556.40 L945.10,556.40 L945.10,557.20 L946.70,557.20 L946.70,557.20 L948.30,557.20 L948.30,557.20 L949.90,557.20 L949.90,556.09 L951.50,556.09 L951.50,556.47 L953.10,556.47 L953.10,556.15 L954.70,556.15 L954.70,556.13 L956.30,556.13 L956.30,557.20 L957.90,557.20 L957.90,556.38 L959.50,556.38 L959.50,557.20 L961.10,557.20 L961.10,557.20 L962.70,557.20 L962.70,557.20 L964.30,557.20 L964.30,557.20 L965.90,557.20 L965.90,557.20 L967.50,557.20 L967.50,556.22 L969.10,556.22 L969.10,556.40 L970.70,556.40 L970.70,557.20 L972.30,557.20 L972.30,557.20 L973.90,557.20 L973.90,556.50 L975.50,556.50 L975.50,556.46 L977.10,556.46 L977.10,557.20 L978.70,557.20 L978.70,557.20 L980.30,557.20 L980.30,557.20 L981.90,557.20 L981.90,557.20 L983.50,557.20 L983.50,556.54 L985.10,556.54 L985.10,557.20 L986.70,557.20 L986.70,556.62 L988.30,556.62 L988.30,557.20 L989.90,557.20 L989.90,556.52 L991.50,556.52 L991.50,556.66 L993.10,556.66 L993.10,556.46 L994.70,556.46 L994.70,556.53 L996.30,556.53 L996.30,557.20 L997.90,557.20 L997.90,557.20 L999.50,557.20 L999.50,557.20 L1001.10,557.20 L1001.10,557.20 L1002.70,557.20 L1002.70,557.20 L1004.30,557.20 L1004.30,556.57 L1005.90,556.57 L1005.90,557.20 L1007.50,557.20 L1007.00,557.20 Z" stroke="none" stroke-width="1" fill="#f59a0f"/>
<rect x="543.40" y="562.10" width="464.30" height="12.70" fill="#00cccc"/>
<line x1="543.40" y1="466.10" x2="1007.70" y2="466.10" stroke="#666" stroke-width="1"/>
<line x1="543.40" y1="489.20" x2="1007.70" y2="489.20" stroke="#aaa" stroke-width="1.4"/>
<line x1="543.40" y1="511.40" x2="1007.70" y2="511.40" stroke="#777" stroke-width="1"/>
<line x1="543.40" y1="534.50" x2="1007.70" y2="534.50" stroke="#666" stroke-width="1"/>
<line x1="543.40" y1="557.20" x2="1007.70" y2="557.20" stroke="#555" stroke-width="1"/>
<line x1="543.40" y1="579.20" x2="1007.70" y2="579.20" stroke="#888" stroke-width="1.2"/>
<text x="565.40" y="616.80" font-size="11.7" text-anchor="start" fill="#111">OMP</text>
<rect x="594.80" y="603.70" width="2.00" height="17.00" fill="#000"/>
<text x="682.40" y="616.80" font-size="11.8" text-anchor="end" fill="#111">MYO7A</text>
<line x1="687.60" y1="612.10" x2="1004.00" y2="612.10" stroke="#e8161e" stroke-width="0.9"/>
<line x1="696.70" y1="602.90" x2="696.70" y2="621.20" stroke="#ee5a5a" stroke-width="0.9"/>
<line x1="740.70" y1="602.90" x2="740.70" y2="621.20" stroke="#ee5a5a" stroke-width="0.9"/>
<line x1="759.40" y1="602.90" x2="759.40" y2="621.20" stroke="#ee5a5a" stroke-width="0.9"/>
<line x1="788.60" y1="602.90" x2="788.60" y2="621.20" stroke="#ee5a5a" stroke-width="0.9"/>
<line x1="791.30" y1="602.90" x2="791.30" y2="621.20" stroke="#ee5a5a" stroke-width="0.9"/>
<line x1="792.40" y1="602.90" x2="792.40" y2="621.20" stroke="#ee5a5a" stroke-width="0.9"/>
<line x1="794.10" y1="602.90" x2="794.10" y2="621.20" stroke="#ee5a5a" stroke-width="0.9"/>
<line x1="797.50" y1="602.90" x2="797.50" y2="621.20" stroke="#ee5a5a" stroke-width="0.9"/>
<line x1="801.90" y1="602.90" x2="801.90" y2="621.20" stroke="#ee5a5a" stroke-width="0.9"/>
<line x1="804.00" y1="602.90" x2="804.00" y2="621.20" stroke="#ee5a5a" stroke-width="0.9"/>
<line x1="807.30" y1="602.90" x2="807.30" y2="621.20" stroke="#ee5a5a" stroke-width="0.9"/>
<line x1="811.50" y1="602.90" x2="811.50" y2="621.20" stroke="#ee5a5a" stroke-width="0.9"/>
<line x1="814.20" y1="602.90" x2="814.20" y2="621.20" stroke="#ee5a5a" stroke-width="0.9"/>
<line x1="825.80" y1="602.90" x2="825.80" y2="621.20" stroke="#ee5a5a" stroke-width="0.9"/>
<line x1="850.50" y1="602.90" x2="850.50" y2="621.20" stroke="#ee5a5a" stroke-width="0.9"/>
<line x1="857.80" y1="602.90" x2="857.80" y2="621.20" stroke="#ee5a5a" stroke-width="0.9"/>
<line x1="860.40" y1="602.90" x2="860.40" y2="621.20" stroke="#ee5a5a" stroke-width="0.9"/>
<line x1="867.70" y1="602.90" x2="867.70" y2="621.20" stroke="#ee5a5a" stroke-width="0.9"/>
<line x1="873.40" y1="602.90" x2="873.40" y2="621.20" stroke="#ee5a5a" stroke-width="0.9"/>
<line x1="876.00" y1="602.90" x2="876.00" y2="621.20" stroke="#ee5a5a" stroke-width="0.9"/>
<line x1="878.60" y1="602.90" x2="878.60" y2="621.20" stroke="#ee5a5a" stroke-width="0.9"/>
<line x1="881.20" y1="602.90" x2="881.20" y2="621.20" stroke="#ee5a5a" stroke-width="0.9"/>
<line x1="882.50" y1="602.90" x2="882.50" y2="621.20" stroke="#ee5a5a" stroke-width="0.9"/>
<line x1="884.00" y1="602.90" x2="884.00" y2="621.20" stroke="#ee5a5a" stroke-width="0.9"/>
<line x1="885.50" y1="602.90" x2="885.50" y2="621.20" stroke="#ee5a5a" stroke-width="0.9"/>
<line x1="887.00" y1="602.90" x2="887.00" y2="621.20" stroke="#ee5a5a" stroke-width="0.9"/>
<line x1="889.00" y1="602.90" x2="889.00" y2="621.20" stroke="#ee5a5a" stroke-width="0.9"/>
<line x1="893.70" y1="602.90" x2="893.70" y2="621.20" stroke="#ee5a5a" stroke-width="0.9"/>
<line x1="910.70" y1="602.90" x2="910.70" y2="621.20" stroke="#ee5a5a" stroke-width="0.9"/>
<line x1="913.30" y1="602.90" x2="913.30" y2="621.20" stroke="#ee5a5a" stroke-width="0.9"/>
<line x1="916.40" y1="602.90" x2="916.40" y2="621.20" stroke="#ee5a5a" stroke-width="0.9"/>
<line x1="920.80" y1="602.90" x2="920.80" y2="621.20" stroke="#ee5a5a" stroke-width="0.9"/>
<line x1="929.40" y1="602.90" x2="929.40" y2="621.20" stroke="#ee5a5a" stroke-width="0.9"/>
<line x1="940.70" y1="602.90" x2="940.70" y2="621.20" stroke="#ee5a5a" stroke-width="0.9"/>
<line x1="944.60" y1="602.90" x2="944.60" y2="621.20" stroke="#ee5a5a" stroke-width="0.9"/>
<line x1="948.20" y1="602.90" x2="948.20" y2="621.20" stroke="#ee5a5a" stroke-width="0.9"/>
<line x1="955.00" y1="602.90" x2="955.00" y2="621.20" stroke="#ee5a5a" stroke-width="0.9"/>
<line x1="958.10" y1="602.90" x2="958.10" y2="621.20" stroke="#ee5a5a" stroke-width="0.9"/>
<line x1="961.30" y1="602.90" x2="961.30" y2="621.20" stroke="#ee5a5a" stroke-width="0.9"/>
<line x1="964.60" y1="602.90" x2="964.60" y2="621.20" stroke="#ee5a5a" stroke-width="0.9"/>
<line x1="969.90" y1="602.90" x2="969.90" y2="621.20" stroke="#ee5a5a" stroke-width="0.9"/>
<line x1="972.50" y1="602.90" x2="972.50" y2="621.20" stroke="#ee5a5a" stroke-width="0.9"/>
<line x1="976.40" y1="602.90" x2="976.40" y2="621.20" stroke="#ee5a5a" stroke-width="0.9"/>
<line x1="980.30" y1="602.90" x2="980.30" y2="621.20" stroke="#ee5a5a" stroke-width="0.9"/>
<line x1="982.10" y1="602.90" x2="982.10" y2="621.20" stroke="#ee5a5a" stroke-width="0.9"/>
<line x1="990.20" y1="602.90" x2="990.20" y2="621.20" stroke="#ee5a5a" stroke-width="0.9"/>
<line x1="993.30" y1="602.90" x2="993.30" y2="621.20" stroke="#ee5a5a" stroke-width="0.9"/>
<line x1="997.20" y1="602.90" x2="997.20" y2="621.20" stroke="#ee5a5a" stroke-width="0.9"/>
<line x1="999.80" y1="602.90" x2="999.80" y2="621.20" stroke="#ee5a5a" stroke-width="0.9"/>
<line x1="1003.00" y1="602.90" x2="1003.00" y2="621.20" stroke="#ee5a5a" stroke-width="0.9"/>
<rect x="881.00" y="602.90" width="8.00" height="18.30" fill="rgba(238,90,90,0.55)"/>
<path d="M1003.5,606 L1006.5,612.1 L1003.5,618 Z" stroke="none" stroke-width="1" fill="#e8161e"/>
<path d="M687.60,616.80 L687.60,596.60 L694.30,596.60" stroke="#e8161e" stroke-width="1.1" fill="none"/>
<path d="M692.60,593.80 L695.80,596.60 L692.60,599.40" stroke="#e8161e" stroke-width="1.1" fill="none"/>
<line x1="543.40" y1="646.70" x2="671.50" y2="646.70" stroke="#555" stroke-width="0.9"/>
<line x1="561.80" y1="637.70" x2="561.80" y2="656.00" stroke="#222" stroke-width="0.9"/>
<line x1="630.60" y1="637.70" x2="630.60" y2="656.00" stroke="#222" stroke-width="0.9"/>
<line x1="636.70" y1="637.70" x2="636.70" y2="656.00" stroke="#222" stroke-width="0.9"/>
<line x1="640.30" y1="637.70" x2="640.30" y2="656.00" stroke="#222" stroke-width="0.9"/>
<line x1="643.70" y1="637.70" x2="643.70" y2="656.00" stroke="#222" stroke-width="0.9"/>
<line x1="651.00" y1="637.70" x2="651.00" y2="656.00" stroke="#222" stroke-width="0.9"/>
<line x1="654.20" y1="637.70" x2="654.20" y2="656.00" stroke="#222" stroke-width="0.9"/>
<line x1="660.20" y1="637.70" x2="660.20" y2="656.00" stroke="#222" stroke-width="0.9"/>
<line x1="664.40" y1="637.70" x2="664.40" y2="656.00" stroke="#222" stroke-width="0.9"/>
<line x1="666.30" y1="637.70" x2="666.30" y2="656.00" stroke="#222" stroke-width="0.9"/>
<line x1="668.00" y1="637.70" x2="668.00" y2="656.00" stroke="#222" stroke-width="0.9"/>
<rect x="671.20" y="641.90" width="9.00" height="10.40" fill="#000"/>
<text x="683.30" y="651.60" font-size="11.8" text-anchor="start" fill="#111">CAPN5</text>
<line x1="543.40" y1="674.70" x2="1007.70" y2="674.70" stroke="#555" stroke-width="1"/>
<line x1="547.60" y1="674.70" x2="547.60" y2="679.20" stroke="#555" stroke-width="1"/>
<line x1="584.40" y1="674.70" x2="584.40" y2="679.20" stroke="#555" stroke-width="1"/>
<line x1="620.80" y1="674.70" x2="620.80" y2="679.20" stroke="#555" stroke-width="1"/>
<line x1="657.80" y1="674.70" x2="657.80" y2="679.20" stroke="#555" stroke-width="1"/>
<line x1="694.30" y1="674.70" x2="694.30" y2="679.20" stroke="#555" stroke-width="1"/>
<line x1="730.80" y1="674.70" x2="730.80" y2="679.20" stroke="#555" stroke-width="1"/>
<line x1="767.20" y1="674.70" x2="767.20" y2="679.20" stroke="#555" stroke-width="1"/>
<line x1="803.50" y1="674.70" x2="803.50" y2="679.20" stroke="#555" stroke-width="1"/>
<line x1="840.30" y1="674.70" x2="840.30" y2="679.20" stroke="#555" stroke-width="1"/>
<line x1="876.80" y1="674.70" x2="876.80" y2="679.20" stroke="#555" stroke-width="1"/>
<line x1="913.30" y1="674.70" x2="913.30" y2="679.20" stroke="#555" stroke-width="1"/>
<line x1="949.50" y1="674.70" x2="949.50" y2="679.20" stroke="#555" stroke-width="1"/>
<line x1="986.30" y1="674.70" x2="986.30" y2="679.20" stroke="#555" stroke-width="1"/>
<text x="586.60" y="691.50" font-size="10.3" text-anchor="middle" fill="#111">77,100 kb</text>
<text x="768.40" y="691.50" font-size="10.3" text-anchor="middle" fill="#111">77,150 kb</text>
<text x="950.60" y="691.50" font-size="10.3" text-anchor="middle" fill="#111">77,200 kb</text>
<line x1="543.40" y1="395.20" x2="1007.70" y2="395.20" stroke="#222" stroke-width="1.1"/>
<line x1="543.40" y1="697.80" x2="1007.70" y2="697.80" stroke="#666" stroke-width="1.5"/>
<line x1="543.40" y1="394.70" x2="543.40" y2="698.50" stroke="#222" stroke-width="1.1"/>
<line x1="1007.70" y1="394.70" x2="1007.70" y2="698.50" stroke="#222" stroke-width="1.1"/>
<text x="510.90" y="742.80" font-size="13.8" text-anchor="end" fill="#111">chr9:104.7-105.2 Mb, ABCA1 locus</text>
<clipPath id="c3"><rect x="64.50" y="747.70" width="447.80" height="69.60"/></clipPath>
<g clip-path="url(#c3)">
<path d="M187.40,814.50 C327.98,725.70 515.42,725.70 656.00,814.50" stroke="#333" stroke-width="0.7" fill="none"/>
<path d="M189.60,814.50 C329.22,726.37 515.38,726.37 655.00,814.50" stroke="#333" stroke-width="0.7" fill="none"/>
<path d="M191.20,814.50 C329.44,728.10 513.76,728.10 652.00,814.50" stroke="#333" stroke-width="0.7" fill="none"/>
<path d="M191.20,814.50 C241.56,767.70 392.64,767.70 443.00,814.50" stroke="#333" stroke-width="0.7" fill="none"/>
<path d="M391.30,814.50 C560.87,643.52 730.43,643.52 900.00,814.50" stroke="#333" stroke-width="0.7" fill="none"/>
</g>
<line x1="100.40" y1="817.30" x2="100.40" y2="840.20" stroke="#f07070" stroke-width="1"/>
<line x1="137.30" y1="817.30" x2="137.30" y2="840.20" stroke="#f07070" stroke-width="1"/>
<line x1="244.60" y1="817.30" x2="244.60" y2="840.20" stroke="#f07070" stroke-width="1"/>
<line x1="442.60" y1="817.30" x2="442.60" y2="840.20" stroke="#f07070" stroke-width="1"/>
<text x="250.40" y="834.20" font-size="11.8" text-anchor="start" fill="#111">rs2437817</text>
<rect x="83.00" y="867.90" width="1.30" height="12.60" fill="#d3e6d6"/>
<rect x="86.80" y="867.90" width="2.00" height="12.60" fill="#d3e6d6"/>
<rect x="101.00" y="867.90" width="3.00" height="12.60" fill="#d3e6d6"/>
<rect x="109.00" y="867.90" width="1.00" height="12.60" fill="#d3e6d6"/>
<rect x="182.00" y="867.90" width="1.00" height="12.60" fill="#d3e6d6"/>
<rect x="186.40" y="867.90" width="2.10" height="12.60" fill="#d3e6d6"/>
<rect x="189.50" y="867.90" width="2.00" height="12.60" fill="#d3e6d6"/>
<rect x="192.50" y="867.90" width="1.80" height="12.60" fill="#d3e6d6"/>
<rect x="220.50" y="867.90" width="3.30" height="12.60" fill="#d3e6d6"/>
<rect x="279.00" y="867.90" width="2.00" height="12.60" fill="#d3e6d6"/>
<rect x="292.00" y="867.90" width="1.50" height="12.60" fill="#d3e6d6"/>
<rect x="300.00" y="867.90" width="2.00" height="12.60" fill="#d3e6d6"/>
<rect x="347.00" y="867.90" width="1.50" height="12.60" fill="#d3e6d6"/>
<rect x="362.00" y="867.90" width="1.00" height="12.60" fill="#d3e6d6"/>
<rect x="399.00" y="867.90" width="1.00" height="12.60" fill="#d3e6d6"/>
<rect x="430.00" y="867.90" width="1.50" height="12.60" fill="#d3e6d6"/>
<rect x="433.00" y="867.90" width="2.00" height="12.60" fill="#d3e6d6"/>
<rect x="437.00" y="867.90" width="1.50" height="12.60" fill="#d3e6d6"/>
<rect x="242.30" y="867.90" width="3.00" height="12.60" fill="#22c33a"/>
<path d="M64.50,909.20 L64.50,909.20 L66.10,909.20 L66.10,909.20 L67.70,909.20 L67.70,909.20 L69.30,909.20 L69.30,909.20 L70.90,909.20 L70.90,909.20 L72.50,909.20 L72.50,909.20 L74.10,909.20 L74.10,909.20 L75.70,909.20 L75.70,909.20 L77.30,909.20 L77.30,909.20 L78.90,909.20 L78.90,909.20 L80.50,909.20 L80.50,909.20 L82.10,909.20 L82.10,909.20 L83.70,909.20 L83.70,909.20 L85.30,909.20 L85.30,909.20 L86.90,909.20 L86.90,892.20 L88.50,892.20 L88.50,889.53 L90.10,889.53 L90.10,909.20 L91.70,909.20 L91.70,908.65 L93.30,908.65 L93.30,909.20 L94.90,909.20 L94.90,908.65 L96.50,908.65 L96.50,907.95 L98.10,907.95 L98.10,909.20 L99.70,909.20 L99.70,904.68 L101.30,904.68 L101.30,900.60 L102.90,900.60 L102.90,903.13 L104.50,903.13 L104.50,908.73 L106.10,908.73 L106.10,908.74 L107.70,908.74 L107.70,909.20 L109.30,909.20 L109.30,908.03 L110.90,908.03 L110.90,908.63 L112.50,908.63 L112.50,909.20 L114.10,909.20 L114.10,909.20 L115.70,909.20 L115.70,908.90 L117.30,908.90 L117.30,909.20 L118.90,909.20 L118.90,909.20 L120.50,909.20 L120.50,909.20 L122.10,909.20 L122.10,909.20 L123.70,909.20 L123.70,909.20 L125.30,909.20 L125.30,909.20 L126.90,909.20 L126.90,909.08 L128.50,909.08 L128.50,909.20 L130.10,909.20 L130.10,909.20 L131.70,909.20 L131.70,909.20 L133.30,909.20 L133.30,909.20 L134.90,909.20 L134.90,909.02 L136.50,909.02 L136.50,908.96 L138.10,908.96 L138.10,908.95 L139.70,908.95 L139.70,909.20 L141.30,909.20 L141.30,908.97 L142.90,908.97 L142.90,908.87 L144.50,908.87 L144.50,908.92 L146.10,908.92 L146.10,908.93 L147.70,908.93 L147.70,909.20 L149.30,909.20 L149.30,908.62 L150.90,908.62 L150.90,908.83 L152.50,908.83 L152.50,909.20 L154.10,909.20 L154.10,908.82 L155.70,908.82 L155.70,908.55 L157.30,908.55 L157.30,908.64 L158.90,908.64 L158.90,908.67 L160.50,908.67 L160.50,908.29 L162.10,908.29 L162.10,909.20 L163.70,909.20 L163.70,909.20 L165.30,909.20 L165.30,909.20 L166.90,909.20 L166.90,908.15 L168.50,908.15 L168.50,908.37 L170.10,908.37 L170.10,907.99 L171.70,907.99 L171.70,909.20 L173.30,909.20 L173.30,907.81 L174.90,907.81 L174.90,907.69 L176.50,907.69 L176.50,907.75 L178.10,907.75 L178.10,907.26 L179.70,907.26 L179.70,907.31 L181.30,907.31 L181.30,906.98 L182.90,906.98 L182.90,907.40 L184.50,907.40 L184.50,907.32 L186.10,907.32 L186.10,906.43 L187.70,906.43 L187.70,900.63 L189.30,900.63 L189.30,901.79 L190.90,901.79 L190.90,904.94 L192.50,904.94 L192.50,905.81 L194.10,905.81 L194.10,905.39 L195.70,905.39 L195.70,908.29 L197.30,908.29 L197.30,908.03 L198.90,908.03 L198.90,907.90 L200.50,907.90 L200.50,908.58 L202.10,908.58 L202.10,908.33 L203.70,908.33 L203.70,909.20 L205.30,909.20 L205.30,909.20 L206.90,909.20 L206.90,908.16 L208.50,908.16 L208.50,909.20 L210.10,909.20 L210.10,908.44 L211.70,908.44 L211.70,908.25 L213.30,908.25 L213.30,908.14 L214.90,908.14 L214.90,909.20 L216.50,909.20 L216.50,908.70 L218.10,908.70 L218.10,909.20 L219.70,909.20 L219.70,909.20 L221.30,909.20 L221.30,908.58 L222.90,908.58 L222.90,909.20 L224.50,909.20 L224.50,909.20 L226.10,909.20 L226.10,909.20 L227.70,909.20 L227.70,909.20 L229.30,909.20 L229.30,908.46 L230.90,908.46 L230.90,908.54 L232.50,908.54 L232.50,909.20 L234.10,909.20 L234.10,909.20 L235.70,909.20 L235.70,909.20 L237.30,909.20 L237.30,908.11 L238.90,908.11 L238.90,909.20 L240.50,909.20 L240.50,907.54 L242.10,907.54 L242.10,906.82 L243.70,906.82 L243.70,904.79 L245.30,904.79 L245.30,906.41 L246.90,906.41 L246.90,907.30 L248.50,907.30 L248.50,907.58 L250.10,907.58 L250.10,907.24 L251.70,907.24 L251.70,909.20 L253.30,909.20 L253.30,908.52 L254.90,908.52 L254.90,909.20 L256.50,909.20 L256.50,909.20 L258.10,909.20 L258.10,908.96 L259.70,908.96 L259.70,908.90 L261.30,908.90 L261.30,908.92 L262.90,908.92 L262.90,908.99 L264.50,908.99 L264.50,909.20 L266.10,909.20 L266.10,909.20 L267.70,909.20 L267.70,909.20 L269.30,909.20 L269.30,908.85 L270.90,908.85 L270.90,909.20 L272.50,909.20 L272.50,908.86 L274.10,908.86 L274.10,909.20 L275.70,909.20 L275.70,909.20 L277.30,909.20 L277.30,909.20 L278.90,909.20 L278.90,904.84 L280.50,904.84 L280.50,905.16 L282.10,905.16 L282.10,909.20 L283.70,909.20 L283.70,909.20 L285.30,909.20 L285.30,909.01 L286.90,909.01 L286.90,909.20 L288.50,909.20 L288.50,908.80 L290.10,908.80 L290.10,908.57 L291.70,908.57 L291.70,908.78 L293.30,908.78 L293.30,908.29 L294.90,908.29 L294.90,909.20 L296.50,909.20 L296.50,908.29 L298.10,908.29 L298.10,907.92 L299.70,907.92 L299.70,901.87 L301.30,901.87 L301.30,907.49 L302.90,907.49 L302.90,907.32 L304.50,907.32 L304.50,907.47 L306.10,907.47 L306.10,907.90 L307.70,907.90 L307.70,907.40 L309.30,907.40 L309.30,909.20 L310.90,909.20 L310.90,908.25 L312.50,908.25 L312.50,908.34 L314.10,908.34 L314.10,907.93 L315.70,907.93 L315.70,909.20 L317.30,909.20 L317.30,908.30 L318.90,908.30 L318.90,908.45 L320.50,908.45 L320.50,908.07 L322.10,908.07 L322.10,909.20 L323.70,909.20 L323.70,909.20 L325.30,909.20 L325.30,909.20 L326.90,909.20 L326.90,908.19 L328.50,908.19 L328.50,908.33 L330.10,908.33 L330.10,908.51 L331.70,908.51 L331.70,909.20 L333.30,909.20 L333.30,908.66 L334.90,908.66 L334.90,909.20 L336.50,909.20 L336.50,909.20 L338.10,909.20 L338.10,909.20 L339.70,909.20 L339.70,909.20 L341.30,909.20 L341.30,909.20 L342.90,909.20 L342.90,909.20 L344.50,909.20 L344.50,909.20 L346.10,909.20 L346.10,908.57 L347.70,908.57 L347.70,909.20 L349.30,909.20 L349.30,909.20 L350.90,909.20 L350.90,909.20 L352.50,909.20 L352.50,908.71 L354.10,908.71 L354.10,909.20 L355.70,909.20 L355.70,908.71 L357.30,908.71 L357.30,909.20 L358.90,909.20 L358.90,909.20 L360.50,909.20 L360.50,909.20 L362.10,909.20 L362.10,909.20 L363.70,909.20 L363.70,908.52 L365.30,908.52 L365.30,908.61 L366.90,908.61 L366.90,908.32 L368.50,908.32 L368.50,909.20 L370.10,909.20 L370.10,909.20 L371.70,909.20 L371.70,908.67 L373.30,908.67 L373.30,908.64 L374.90,908.64 L374.90,909.20 L376.50,909.20 L376.50,909.20 L378.10,909.20 L378.10,908.56 L379.70,908.56 L379.70,909.20 L381.30,909.20 L381.30,909.20 L382.90,909.20 L382.90,909.20 L384.50,909.20 L384.50,909.20 L386.10,909.20 L386.10,908.42 L387.70,908.42 L387.70,908.23 L389.30,908.23 L389.30,909.20 L390.90,909.20 L390.90,908.36 L392.50,908.36 L392.50,908.37 L394.10,908.37 L394.10,908.29 L395.70,908.29 L395.70,908.35 L397.30,908.35 L397.30,909.20 L398.90,909.20 L398.90,909.20 L400.50,909.20 L400.50,908.20 L402.10,908.20 L402.10,908.11 L403.70,908.11 L403.70,908.19 L405.30,908.19 L405.30,908.41 L406.90,908.41 L406.90,909.20 L408.50,909.20 L408.50,908.00 L410.10,908.00 L410.10,905.47 L411.70,905.47 L411.70,909.20 L413.30,909.20 L413.30,908.47 L414.90,908.47 L414.90,909.20 L416.50,909.20 L416.50,909.20 L418.10,909.20 L418.10,908.40 L419.70,908.40 L419.70,908.02 L421.30,908.02 L421.30,909.20 L422.90,909.20 L422.90,908.29 L424.50,908.29 L424.50,909.20 L426.10,909.20 L426.10,908.30 L427.70,908.30 L427.70,909.20 L429.30,909.20 L429.30,906.11 L430.90,906.11 L430.90,906.88 L432.50,906.88 L432.50,908.07 L434.10,908.07 L434.10,907.08 L435.70,907.08 L435.70,906.17 L437.30,906.17 L437.30,906.18 L438.90,906.18 L438.90,906.64 L440.50,906.64 L440.50,907.41 L442.10,907.41 L442.10,905.30 L443.70,905.30 L443.70,903.93 L445.30,903.93 L445.30,906.38 L446.90,906.38 L446.90,907.48 L448.50,907.48 L448.50,907.01 L450.10,907.01 L450.10,909.20 L451.70,909.20 L451.70,909.20 L453.30,909.20 L453.30,908.41 L454.90,908.41 L454.90,909.20 L456.50,909.20 L456.50,909.20 L458.10,909.20 L458.10,908.36 L459.70,908.36 L459.70,909.20 L461.30,909.20 L461.30,908.38 L462.90,908.38 L462.90,909.20 L464.50,909.20 L464.50,908.56 L466.10,908.56 L466.10,908.75 L467.70,908.75 L467.70,908.99 L469.30,908.99 L469.30,909.11 L470.90,909.11 L470.00,909.20 Z" stroke="none" stroke-width="1" fill="#f59a0f"/>
<rect x="64.50" y="913.90" width="14.40" height="12.10" fill="#00cccc"/>
<rect x="80.60" y="913.90" width="398.90" height="12.10" fill="#00cccc"/>
<line x1="64.50" y1="817.30" x2="512.30" y2="817.30" stroke="#666" stroke-width="1"/>
<line x1="64.50" y1="840.20" x2="512.30" y2="840.20" stroke="#aaa" stroke-width="1.4"/>
<line x1="64.50" y1="862.30" x2="512.30" y2="862.30" stroke="#777" stroke-width="1"/>
<line x1="64.50" y1="887.20" x2="512.30" y2="887.20" stroke="#666" stroke-width="1"/>
<line x1="64.50" y1="909.20" x2="512.30" y2="909.20" stroke="#555" stroke-width="1"/>
<line x1="64.50" y1="930.80" x2="512.30" y2="930.80" stroke="#888" stroke-width="1.2"/>
<line x1="116.00" y1="960.60" x2="244.40" y2="960.60" stroke="#e8161e" stroke-width="1"/>
<rect x="116.10" y="955.20" width="3.40" height="11.30" fill="#e8161e"/>
<rect x="119.50" y="951.90" width="3.00" height="18.50" fill="#e8161e"/>
<rect x="123.10" y="951.90" width="1.80" height="18.50" fill="#e8161e"/>
<rect x="125.20" y="951.90" width="2.20" height="18.50" fill="#e8161e"/>
<rect x="127.80" y="951.90" width="1.00" height="18.50" fill="#e8161e"/>
<rect x="129.20" y="951.90" width="1.00" height="18.50" fill="#e8161e"/>
<rect x="130.80" y="951.90" width="2.20" height="18.50" fill="#e8161e"/>
<rect x="133.40" y="951.90" width="2.20" height="18.50" fill="#e8161e"/>
<rect x="135.90" y="951.90" width="3.00" height="18.50" fill="#e8161e"/>
<rect x="139.30" y="951.90" width="1.00" height="18.50" fill="#e8161e"/>
<rect x="140.70" y="951.90" width="2.20" height="18.50" fill="#e8161e"/>
<rect x="143.50" y="951.90" width="1.40" height="18.50" fill="#e8161e"/>
<rect x="145.70" y="951.90" width="1.40" height="18.50" fill="#e8161e"/>
<rect x="147.40" y="951.90" width="1.40" height="18.50" fill="#e8161e"/>
<rect x="149.60" y="951.90" width="1.40" height="18.50" fill="#e8161e"/>
<rect x="151.40" y="951.90" width="1.00" height="18.50" fill="#e8161e"/>
<rect x="152.70" y="951.90" width="1.40" height="18.50" fill="#e8161e"/>
<rect x="154.50" y="951.90" width="1.40" height="18.50" fill="#e8161e"/>
<rect x="156.30" y="951.90" width="1.80" height="18.50" fill="#e8161e"/>
<rect x="158.70" y="951.90" width="1.40" height="18.50" fill="#e8161e"/>
<rect x="160.50" y="951.90" width="1.40" height="18.50" fill="#e8161e"/>
<line x1="165.40" y1="951.90" x2="165.40" y2="970.40" stroke="#e8161e" stroke-width="1"/>
<line x1="168.40" y1="951.90" x2="168.40" y2="970.40" stroke="#e8161e" stroke-width="1"/>
<line x1="173.00" y1="951.90" x2="173.00" y2="970.40" stroke="#e8161e" stroke-width="1"/>
<line x1="184.40" y1="951.90" x2="184.40" y2="970.40" stroke="#e8161e" stroke-width="1"/>
<line x1="187.00" y1="951.90" x2="187.00" y2="970.40" stroke="#e8161e" stroke-width="1"/>
<line x1="205.90" y1="951.90" x2="205.90" y2="970.40" stroke="#e8161e" stroke-width="1"/>
<line x1="206.40" y1="951.90" x2="206.40" y2="970.40" stroke="#e8161e" stroke-width="1"/>
<line x1="210.70" y1="951.90" x2="210.70" y2="970.40" stroke="#e8161e" stroke-width="1"/>
<line x1="223.50" y1="951.90" x2="223.50" y2="970.40" stroke="#e8161e" stroke-width="1"/>
<path d="M244.20,960.60 L244.20,942.40 L239.20,942.40" stroke="#e8161e" stroke-width="1.1" fill="none"/>
<path d="M240.90,939.60 L237.70,942.40 L240.90,945.20" stroke="#e8161e" stroke-width="1.1" fill="none"/>
<text x="252.40" y="962.40" font-size="11.8" text-anchor="start" fill="#111">ABCA1</text>
<line x1="281.00" y1="995.20" x2="299.70" y2="995.20" stroke="#222" stroke-width="0.9"/>
<line x1="295.50" y1="988.90" x2="295.50" y2="1001.70" stroke="#111" stroke-width="1"/>
<line x1="299.20" y1="988.90" x2="299.20" y2="1001.70" stroke="#111" stroke-width="1"/>
<text x="307.20" y="998.10" font-size="11.8" text-anchor="start" fill="#111">CT70</text>
<line x1="64.50" y1="1026.60" x2="512.30" y2="1026.60" stroke="#555" stroke-width="1"/>
<line x1="89.50" y1="1026.60" x2="89.50" y2="1031.10" stroke="#555" stroke-width="1"/>
<line x1="133.40" y1="1026.60" x2="133.40" y2="1031.10" stroke="#555" stroke-width="1"/>
<line x1="176.30" y1="1026.60" x2="176.30" y2="1031.10" stroke="#555" stroke-width="1"/>
<line x1="219.50" y1="1026.60" x2="219.50" y2="1031.10" stroke="#555" stroke-width="1"/>
<line x1="263.10" y1="1026.60" x2="263.10" y2="1031.10" stroke="#555" stroke-width="1"/>
<line x1="307.00" y1="1026.60" x2="307.00" y2="1031.10" stroke="#555" stroke-width="1"/>
<line x1="350.30" y1="1026.60" x2="350.30" y2="1031.10" stroke="#555" stroke-width="1"/>
<line x1="393.50" y1="1026.60" x2="393.50" y2="1031.10" stroke="#555" stroke-width="1"/>
<line x1="437.00" y1="1026.60" x2="437.00" y2="1031.10" stroke="#555" stroke-width="1"/>
<line x1="480.40" y1="1026.60" x2="480.40" y2="1031.10" stroke="#555" stroke-width="1"/>
<text x="134.00" y="1041.80" font-size="10.3" text-anchor="middle" fill="#111">104,800 kb</text>
<text x="307.60" y="1041.80" font-size="10.3" text-anchor="middle" fill="#111">105,000 kb</text>
<text x="481.30" y="1041.80" font-size="10.3" text-anchor="middle" fill="#111">105,200 kb</text>
<line x1="64.50" y1="747.70" x2="512.30" y2="747.70" stroke="#9a9a9a" stroke-width="1.6"/>
<line x1="64.50" y1="1051.20" x2="512.30" y2="1051.20" stroke="#666" stroke-width="1.2"/>
<line x1="64.50" y1="747.20" x2="64.50" y2="1051.90" stroke="#555" stroke-width="1.1"/>
<line x1="512.30" y1="747.20" x2="512.30" y2="1051.90" stroke="#555" stroke-width="1.1"/>
<text x="1003.80" y="741.80" font-size="13.8" text-anchor="end" fill="#111">chr14: 24.0-24.1 Mb, PCK2 locus</text>
<clipPath id="c4"><rect x="544.10" y="748.30" width="460.60" height="68.90"/></clipPath>
<g clip-path="url(#c4)">
<path d="M592.80,815.50 C688.36,737.50 975.04,737.50 1070.60,815.50" stroke="#333" stroke-width="0.7" fill="none"/>
<path d="M632.30,815.50 C711.66,741.63 949.74,741.63 1029.10,815.50" stroke="#333" stroke-width="0.7" fill="none"/>
<path d="M632.30,815.50 C713.04,743.23 955.26,743.23 1036.00,815.50" stroke="#333" stroke-width="0.7" fill="none"/>
<path d="M671.80,815.50 C743.80,752.70 959.80,752.70 1031.80,815.50" stroke="#333" stroke-width="0.7" fill="none"/>
<path d="M671.80,815.50 C745.04,753.50 964.76,753.50 1038.00,815.50" stroke="#333" stroke-width="0.7" fill="none"/>
<path d="M632.30,815.50 C703.72,753.37 917.98,753.37 989.40,815.50" stroke="#333" stroke-width="0.7" fill="none"/>
<path d="M632.30,815.50 C695.74,761.63 886.06,761.63 949.50,815.50" stroke="#333" stroke-width="0.7" fill="none"/>
<path d="M632.30,815.50 C687.80,765.50 854.30,765.50 909.80,815.50" stroke="#333" stroke-width="0.7" fill="none"/>
<path d="M632.30,815.50 C656.26,793.77 728.14,793.77 752.10,815.50" stroke="#333" stroke-width="0.7" fill="none"/>
<path d="M671.80,815.50 C727.34,765.10 893.96,765.10 949.50,815.50" stroke="#333" stroke-width="0.7" fill="none"/>
<path d="M632.30,815.50 C888.20,652.84 1144.10,652.84 1400.00,815.50" stroke="#333" stroke-width="0.7" fill="none"/>
<path d="M592.80,815.50 C656.20,759.23 846.40,759.23 909.80,815.50" stroke="#a8229a" stroke-width="1.6" fill="none"/>
</g>
<rect x="572.60" y="814.20" width="38.40" height="1.70" fill="#a8229a"/>
<rect x="890.50" y="814.00" width="38.90" height="1.80" fill="#a8229a"/>
<line x1="594.40" y1="817.20" x2="594.40" y2="839.90" stroke="#f07070" stroke-width="1"/>
<line x1="601.30" y1="817.20" x2="601.30" y2="839.90" stroke="#f07070" stroke-width="1"/>
<line x1="810.20" y1="817.20" x2="810.20" y2="839.90" stroke="#f07070" stroke-width="1"/>
<text x="541.00" y="833.10" font-size="9.9" text-anchor="start" fill="#111">rs11624730</text>
<rect x="731.80" y="844.20" width="210.90" height="11.50" fill="#ffb3b3"/>
<rect x="640.70" y="868.30" width="3.10" height="12.20" fill="#d3e6d6"/>
<rect x="663.80" y="868.30" width="4.10" height="12.20" fill="#d3e6d6"/>
<rect x="731.80" y="868.30" width="210.90" height="12.20" fill="#d3e6d6"/>
<rect x="962.60" y="868.30" width="8.30" height="12.20" fill="#d3e6d6"/>
<rect x="584.20" y="868.30" width="12.20" height="12.20" fill="#1ec53a"/>
<path d="M541.00,908.10 L541.00,906.66 L542.60,906.66 L542.60,908.10 L544.20,908.10 L544.20,908.10 L545.80,908.10 L545.80,908.10 L547.40,908.10 L547.40,907.69 L549.00,907.69 L549.00,907.73 L550.60,907.73 L550.60,908.10 L552.20,908.10 L552.20,908.10 L553.80,908.10 L553.80,907.84 L555.40,907.84 L555.40,908.10 L557.00,908.10 L557.00,908.10 L558.60,908.10 L558.60,908.10 L560.20,908.10 L560.20,907.74 L561.80,907.74 L561.80,908.10 L563.40,908.10 L563.40,907.76 L565.00,907.76 L565.00,908.10 L566.60,908.10 L566.60,908.10 L568.20,908.10 L568.20,907.71 L569.80,907.71 L569.80,908.10 L571.40,908.10 L571.40,907.69 L573.00,907.69 L573.00,908.10 L574.60,908.10 L574.60,907.66 L576.20,907.66 L576.20,907.70 L577.80,907.70 L577.80,907.75 L579.40,907.75 L579.40,907.65 L581.00,907.65 L581.00,906.92 L582.60,906.92 L582.60,905.05 L584.20,905.05 L584.20,902.92 L585.80,902.92 L585.80,898.66 L587.40,898.66 L587.40,898.87 L589.00,898.87 L589.00,900.47 L590.60,900.47 L590.60,898.32 L592.20,898.32 L592.20,900.43 L593.80,900.43 L593.80,902.50 L595.40,902.50 L595.40,903.62 L597.00,903.62 L597.00,906.23 L598.60,906.23 L598.60,908.10 L600.20,908.10 L600.20,907.73 L601.80,907.73 L601.80,908.10 L603.40,908.10 L603.40,908.10 L605.00,908.10 L605.00,908.10 L606.60,908.10 L606.60,907.74 L608.20,907.74 L608.20,907.61 L609.80,907.61 L609.80,907.71 L611.40,907.71 L611.40,908.10 L613.00,908.10 L613.00,907.71 L614.60,907.71 L614.60,908.10 L616.20,908.10 L616.20,907.59 L617.80,907.59 L617.80,907.69 L619.40,907.69 L619.40,908.10 L621.00,908.10 L621.00,907.64 L622.60,907.64 L622.60,907.62 L624.20,907.62 L624.20,908.10 L625.80,908.10 L625.80,908.10 L627.40,908.10 L627.40,907.61 L629.00,907.61 L629.00,908.10 L630.60,908.10 L630.60,907.52 L632.20,907.52 L632.20,908.10 L633.80,908.10 L633.80,907.57 L635.40,907.57 L635.40,907.61 L637.00,907.61 L637.00,908.10 L638.60,908.10 L638.60,906.11 L640.20,906.11 L640.20,904.76 L641.80,904.76 L641.80,904.66 L643.40,904.66 L643.40,904.51 L645.00,904.51 L645.00,905.53 L646.60,905.53 L646.60,908.10 L648.20,908.10 L648.20,908.10 L649.80,908.10 L649.80,908.10 L651.40,908.10 L651.40,907.65 L653.00,907.65 L653.00,908.10 L654.60,908.10 L654.60,907.61 L656.20,907.61 L656.20,908.10 L657.80,908.10 L657.80,907.46 L659.40,907.46 L659.40,907.51 L661.00,907.51 L661.00,907.58 L662.60,907.58 L662.60,907.48 L664.20,907.48 L664.20,908.10 L665.80,908.10 L665.80,907.48 L667.40,907.48 L667.40,908.10 L669.00,908.10 L669.00,908.10 L670.60,908.10 L670.60,908.10 L672.20,908.10 L672.20,908.10 L673.80,908.10 L673.80,907.53 L675.40,907.53 L675.40,908.10 L677.00,908.10 L677.00,907.59 L678.60,907.59 L678.60,907.44 L680.20,907.44 L680.20,908.10 L681.80,908.10 L681.80,908.10 L683.40,908.10 L683.40,907.42 L685.00,907.42 L685.00,907.59 L686.60,907.59 L686.60,908.10 L688.20,908.10 L688.20,907.57 L689.80,907.57 L689.80,907.33 L691.40,907.33 L691.40,908.10 L693.00,908.10 L693.00,907.29 L694.60,907.29 L694.60,908.10 L696.20,908.10 L696.20,908.10 L697.80,908.10 L697.80,908.10 L699.40,908.10 L699.40,907.31 L701.00,907.31 L701.00,908.10 L702.60,908.10 L702.60,907.40 L704.20,907.40 L704.20,907.39 L705.80,907.39 L705.80,907.31 L707.40,907.31 L707.40,908.10 L709.00,908.10 L709.00,907.38 L710.60,907.38 L710.60,908.10 L712.20,908.10 L712.20,907.24 L713.80,907.24 L713.80,908.10 L715.40,908.10 L715.40,908.10 L717.00,908.10 L717.00,908.10 L718.60,908.10 L718.60,907.40 L720.20,907.40 L720.20,908.10 L721.80,908.10 L721.80,908.10 L723.40,908.10 L723.40,907.42 L725.00,907.42 L725.00,908.10 L726.60,908.10 L726.60,906.18 L728.20,906.18 L728.20,905.75 L729.80,905.75 L729.80,906.20 L731.40,906.20 L731.40,906.04 L733.00,906.04 L733.00,906.46 L734.60,906.46 L734.60,905.90 L736.20,905.90 L736.20,906.16 L737.80,906.16 L737.80,905.79 L739.40,905.79 L739.40,905.66 L741.00,905.66 L741.00,906.04 L742.60,906.04 L742.60,905.70 L744.20,905.70 L744.20,905.40 L745.80,905.40 L745.80,906.15 L747.40,906.15 L747.40,905.49 L749.00,905.49 L749.00,905.79 L750.60,905.79 L750.60,905.28 L752.20,905.28 L752.20,906.17 L753.80,906.17 L753.80,905.82 L755.40,905.82 L755.40,906.03 L757.00,906.03 L757.00,905.91 L758.60,905.91 L758.60,905.20 L760.20,905.20 L760.20,905.57 L761.80,905.57 L761.80,905.81 L763.40,905.81 L763.40,905.23 L765.00,905.23 L765.00,906.23 L766.60,906.23 L766.60,906.30 L768.20,906.30 L768.20,905.61 L769.80,905.61 L769.80,905.87 L771.40,905.87 L771.40,905.67 L773.00,905.67 L773.00,906.04 L774.60,906.04 L774.60,905.69 L776.20,905.69 L776.20,906.17 L777.80,906.17 L777.80,906.17 L779.40,906.17 L779.40,905.42 L781.00,905.42 L781.00,905.66 L782.60,905.66 L782.60,906.11 L784.20,906.11 L784.20,906.05 L785.80,906.05 L785.80,905.96 L787.40,905.96 L787.40,904.99 L789.00,904.99 L789.00,904.99 L790.60,904.99 L790.60,905.56 L792.20,905.56 L792.20,904.46 L793.80,904.46 L793.80,904.31 L795.40,904.31 L795.40,904.36 L797.00,904.36 L797.00,904.27 L798.60,904.27 L798.60,904.35 L800.20,904.35 L800.20,903.74 L801.80,903.74 L801.80,904.12 L803.40,904.12 L803.40,902.94 L805.00,902.94 L805.00,903.42 L806.60,903.42 L806.60,903.09 L808.20,903.09 L808.20,902.38 L809.80,902.38 L809.80,902.06 L811.40,902.06 L811.40,902.67 L813.00,902.67 L813.00,903.33 L814.60,903.33 L814.60,901.88 L816.20,901.88 L816.20,900.34 L817.80,900.34 L817.80,902.04 L819.40,902.04 L819.40,900.60 L821.00,900.60 L821.00,899.09 L822.60,899.09 L822.60,897.87 L824.20,897.87 L824.20,896.27 L825.80,896.27 L825.80,899.70 L827.40,899.70 L827.40,900.41 L829.00,900.41 L829.00,897.05 L830.60,897.05 L830.60,894.41 L832.20,894.41 L832.20,899.23 L833.80,899.23 L833.80,900.48 L835.40,900.48 L835.40,902.63 L837.00,902.63 L837.00,900.71 L838.60,900.71 L838.60,901.75 L840.20,901.75 L840.20,903.01 L841.80,903.01 L841.80,902.48 L843.40,902.48 L843.40,902.77 L845.00,902.77 L845.00,901.92 L846.60,901.92 L846.60,902.06 L848.20,902.06 L848.20,901.83 L849.80,901.83 L849.80,901.87 L851.40,901.87 L851.40,902.53 L853.00,902.53 L853.00,901.42 L854.60,901.42 L854.60,900.18 L856.20,900.18 L856.20,900.25 L857.80,900.25 L857.80,899.82 L859.40,899.82 L859.40,901.60 L861.00,901.60 L861.00,902.31 L862.60,902.31 L862.60,900.46 L864.20,900.46 L864.20,901.04 L865.80,901.04 L865.80,901.63 L867.40,901.63 L867.40,901.30 L869.00,901.30 L869.00,903.30 L870.60,903.30 L870.60,902.62 L872.20,902.62 L872.20,903.67 L873.80,903.67 L873.80,903.08 L875.40,903.08 L875.40,902.52 L877.00,902.52 L877.00,903.54 L878.60,903.54 L878.60,903.30 L880.20,903.30 L880.20,902.65 L881.80,902.65 L881.80,903.71 L883.40,903.71 L883.40,904.27 L885.00,904.27 L885.00,903.00 L886.60,903.00 L886.60,903.61 L888.20,903.61 L888.20,904.32 L889.80,904.32 L889.80,904.49 L891.40,904.49 L891.40,905.05 L893.00,905.05 L893.00,905.07 L894.60,905.07 L894.60,903.81 L896.20,903.81 L896.20,904.63 L897.80,904.63 L897.80,904.49 L899.40,904.49 L899.40,905.39 L901.00,905.39 L901.00,905.42 L902.60,905.42 L902.60,906.72 L904.20,906.72 L904.20,906.97 L905.80,906.97 L905.80,908.10 L907.40,908.10 L907.40,906.34 L909.00,906.34 L909.00,906.58 L910.60,906.58 L910.60,906.22 L912.20,906.22 L912.20,906.15 L913.80,906.15 L913.80,905.72 L915.40,905.72 L915.40,905.57 L917.00,905.57 L917.00,905.66 L918.60,905.66 L918.60,904.42 L920.20,904.42 L920.20,903.03 L921.80,903.03 L921.80,898.92 L923.40,898.92 L923.40,899.33 L925.00,899.33 L925.00,899.41 L926.60,899.41 L926.60,896.05 L928.20,896.05 L928.20,895.60 L929.80,895.60 L929.80,897.30 L931.40,897.30 L931.40,897.93 L933.00,897.93 L933.00,901.79 L934.60,901.79 L934.60,902.40 L936.20,902.40 L936.20,905.88 L937.80,905.88 L937.80,906.83 L939.40,906.83 L939.40,908.10 L941.00,908.10 L941.00,907.54 L942.60,907.54 L942.60,908.10 L944.20,908.10 L944.20,908.10 L945.80,908.10 L945.80,907.68 L947.40,907.68 L947.40,907.62 L949.00,907.62 L949.00,908.10 L950.60,908.10 L950.60,908.10 L952.20,908.10 L952.20,908.10 L953.80,908.10 L953.80,908.10 L955.40,908.10 L955.40,908.10 L957.00,908.10 L957.00,908.10 L958.60,908.10 L958.60,908.10 L960.20,908.10 L960.20,907.58 L961.80,907.58 L961.80,907.70 L963.40,907.70 L963.40,907.66 L965.00,907.66 L965.00,908.10 L966.60,908.10 L966.60,908.10 L968.20,908.10 L968.20,907.67 L969.80,907.67 L969.80,907.70 L971.40,907.70 L971.40,907.69 L973.00,907.69 L973.00,908.10 L974.60,908.10 L974.60,908.10 L976.20,908.10 L976.20,908.10 L977.80,908.10 L977.80,908.10 L979.40,908.10 L979.40,907.66 L981.00,907.66 L981.00,908.10 L982.60,908.10 L982.60,908.10 L984.20,908.10 L984.20,908.10 L985.80,908.10 L985.80,908.10 L987.40,908.10 L987.40,907.76 L989.00,907.76 L989.00,908.10 L990.60,908.10 L990.60,908.10 L992.20,908.10 L992.20,908.10 L993.80,908.10 L993.80,908.10 L995.40,908.10 L995.40,907.63 L997.00,907.63 L997.00,908.10 L998.60,908.10 L998.60,907.71 L1000.20,907.71 L1000.20,907.64 L1001.80,907.64 L1001.80,908.10 L1003.40,908.10 L1003.40,907.72 L1005.00,907.72 L1004.70,908.10 Z" stroke="none" stroke-width="1" fill="#f59a0f"/>
<rect x="540.50" y="913.30" width="464.20" height="12.20" fill="#00cccc"/>
<line x1="541.00" y1="817.20" x2="1004.70" y2="817.20" stroke="#666" stroke-width="1"/>
<line x1="541.00" y1="839.90" x2="1004.70" y2="839.90" stroke="#aaa" stroke-width="1.4"/>
<line x1="541.00" y1="862.20" x2="1004.70" y2="862.20" stroke="#777" stroke-width="1"/>
<line x1="541.00" y1="885.30" x2="1004.70" y2="885.30" stroke="#666" stroke-width="1"/>
<line x1="541.00" y1="908.10" x2="1004.70" y2="908.10" stroke="#555" stroke-width="1"/>
<line x1="541.00" y1="929.90" x2="1004.70" y2="929.90" stroke="#888" stroke-width="1.2"/>
<line x1="589.50" y1="962.90" x2="729.60" y2="962.90" stroke="#555" stroke-width="0.9"/>
<line x1="589.70" y1="953.90" x2="589.70" y2="972.00" stroke="#000" stroke-width="1.7"/>
<line x1="602.60" y1="953.90" x2="602.60" y2="972.00" stroke="#000" stroke-width="1.7"/>
<line x1="605.50" y1="953.90" x2="605.50" y2="972.00" stroke="#000" stroke-width="1.7"/>
<line x1="607.20" y1="953.90" x2="607.20" y2="972.00" stroke="#000" stroke-width="1.7"/>
<line x1="609.20" y1="953.90" x2="609.20" y2="972.00" stroke="#000" stroke-width="1.7"/>
<line x1="611.60" y1="953.90" x2="611.60" y2="972.00" stroke="#000" stroke-width="1.7"/>
<line x1="613.30" y1="953.90" x2="613.30" y2="972.00" stroke="#000" stroke-width="1.7"/>
<line x1="615.30" y1="953.90" x2="615.30" y2="972.00" stroke="#000" stroke-width="1.7"/>
<line x1="617.70" y1="953.90" x2="617.70" y2="972.00" stroke="#000" stroke-width="1.7"/>
<line x1="623.80" y1="953.90" x2="623.80" y2="972.00" stroke="#000" stroke-width="1.7"/>
<line x1="625.70" y1="953.90" x2="625.70" y2="972.00" stroke="#000" stroke-width="1.7"/>
<line x1="627.40" y1="953.90" x2="627.40" y2="972.00" stroke="#000" stroke-width="1.7"/>
<line x1="629.80" y1="953.90" x2="629.80" y2="972.00" stroke="#000" stroke-width="1.7"/>
<line x1="635.90" y1="953.90" x2="635.90" y2="972.00" stroke="#000" stroke-width="1.7"/>
<line x1="637.60" y1="953.90" x2="637.60" y2="972.00" stroke="#000" stroke-width="1.7"/>
<line x1="642.00" y1="953.90" x2="642.00" y2="972.00" stroke="#000" stroke-width="1.7"/>
<line x1="644.40" y1="953.90" x2="644.40" y2="972.00" stroke="#000" stroke-width="1.7"/>
<line x1="646.40" y1="953.90" x2="646.40" y2="972.00" stroke="#000" stroke-width="1.7"/>
<line x1="649.30" y1="953.90" x2="649.30" y2="972.00" stroke="#000" stroke-width="1.7"/>
<line x1="651.20" y1="953.90" x2="651.20" y2="972.00" stroke="#000" stroke-width="1.7"/>
<line x1="653.00" y1="953.90" x2="653.00" y2="972.00" stroke="#000" stroke-width="1.7"/>
<line x1="654.20" y1="953.90" x2="654.20" y2="972.00" stroke="#000" stroke-width="1.7"/>
<line x1="659.00" y1="953.90" x2="659.00" y2="972.00" stroke="#000" stroke-width="1.7"/>
<line x1="660.70" y1="953.90" x2="660.70" y2="972.00" stroke="#000" stroke-width="1.7"/>
<line x1="665.10" y1="953.90" x2="665.10" y2="972.00" stroke="#000" stroke-width="1.7"/>
<line x1="672.40" y1="953.90" x2="672.40" y2="972.00" stroke="#000" stroke-width="1.7"/>
<line x1="674.10" y1="953.90" x2="674.10" y2="972.00" stroke="#000" stroke-width="1.7"/>
<line x1="677.80" y1="953.90" x2="677.80" y2="972.00" stroke="#000" stroke-width="1.7"/>
<line x1="679.70" y1="953.90" x2="679.70" y2="972.00" stroke="#000" stroke-width="1.7"/>
<line x1="687.00" y1="953.90" x2="687.00" y2="972.00" stroke="#000" stroke-width="1.7"/>
<line x1="692.60" y1="953.90" x2="692.60" y2="972.00" stroke="#000" stroke-width="1.7"/>
<line x1="695.00" y1="953.90" x2="695.00" y2="972.00" stroke="#000" stroke-width="1.7"/>
<line x1="697.90" y1="953.90" x2="697.90" y2="972.00" stroke="#000" stroke-width="1.7"/>
<line x1="704.00" y1="953.90" x2="704.00" y2="972.00" stroke="#000" stroke-width="1.7"/>
<line x1="705.20" y1="953.90" x2="705.20" y2="972.00" stroke="#000" stroke-width="1.7"/>
<line x1="721.00" y1="953.90" x2="721.00" y2="972.00" stroke="#000" stroke-width="1.7"/>
<line x1="722.70" y1="953.90" x2="722.70" y2="972.00" stroke="#000" stroke-width="1.7"/>
<line x1="725.90" y1="953.90" x2="725.90" y2="972.00" stroke="#000" stroke-width="1.7"/>
<line x1="728.80" y1="953.90" x2="728.80" y2="972.00" stroke="#000" stroke-width="1.7"/>
<text x="732.40" y="967.50" font-size="11.9" text-anchor="start" fill="#111">CARMIL3</text>
<rect x="801.10" y="958.20" width="22.50" height="9.90" fill="#000"/>
<rect x="821.50" y="953.90" width="2.50" height="18.30" fill="#000"/>
<rect x="829.40" y="953.90" width="3.40" height="18.30" fill="#000"/>
<line x1="824.00" y1="963.20" x2="843.00" y2="963.20" stroke="#555" stroke-width="0.9"/>
<rect x="841.50" y="958.20" width="2.00" height="9.90" fill="#000"/>
<text x="849.80" y="968.20" font-size="11.4" text-anchor="start" fill="#111">NRL</text>
<line x1="744.60" y1="997.90" x2="795.80" y2="997.90" stroke="#555" stroke-width="0.9"/>
<line x1="744.60" y1="992.90" x2="744.60" y2="1002.80" stroke="#222" stroke-width="0.9"/>
<line x1="755.30" y1="988.80" x2="755.30" y2="1007.00" stroke="#000" stroke-width="1.6"/>
<line x1="759.50" y1="988.80" x2="759.50" y2="1007.00" stroke="#000" stroke-width="1.6"/>
<line x1="763.60" y1="988.80" x2="763.60" y2="1007.00" stroke="#000" stroke-width="1.6"/>
<line x1="764.60" y1="988.80" x2="764.60" y2="1007.00" stroke="#000" stroke-width="1.6"/>
<line x1="765.60" y1="988.80" x2="765.60" y2="1007.00" stroke="#000" stroke-width="1.6"/>
<line x1="766.70" y1="988.80" x2="766.70" y2="1007.00" stroke="#000" stroke-width="1.6"/>
<line x1="767.70" y1="988.80" x2="767.70" y2="1007.00" stroke="#000" stroke-width="1.6"/>
<line x1="770.20" y1="988.80" x2="770.20" y2="1007.00" stroke="#000" stroke-width="1.6"/>
<line x1="771.90" y1="988.80" x2="771.90" y2="1007.00" stroke="#000" stroke-width="1.6"/>
<line x1="773.50" y1="988.80" x2="773.50" y2="1007.00" stroke="#000" stroke-width="1.6"/>
<line x1="775.20" y1="988.80" x2="775.20" y2="1007.00" stroke="#000" stroke-width="1.6"/>
<line x1="776.80" y1="988.80" x2="776.80" y2="1007.00" stroke="#000" stroke-width="1.6"/>
<line x1="780.10" y1="988.80" x2="780.10" y2="1007.00" stroke="#000" stroke-width="1.6"/>
<line x1="781.30" y1="988.80" x2="781.30" y2="1007.00" stroke="#000" stroke-width="1.6"/>
<line x1="782.60" y1="988.80" x2="782.60" y2="1007.00" stroke="#000" stroke-width="1.6"/>
<line x1="784.00" y1="988.80" x2="784.00" y2="1007.00" stroke="#000" stroke-width="1.6"/>
<line x1="785.30" y1="988.80" x2="785.30" y2="1007.00" stroke="#000" stroke-width="1.6"/>
<line x1="786.70" y1="988.80" x2="786.70" y2="1007.00" stroke="#000" stroke-width="1.6"/>
<line x1="789.20" y1="988.80" x2="789.20" y2="1007.00" stroke="#000" stroke-width="1.6"/>
<line x1="791.20" y1="988.80" x2="791.20" y2="1007.00" stroke="#000" stroke-width="1.6"/>
<line x1="793.40" y1="988.80" x2="793.40" y2="1007.00" stroke="#000" stroke-width="1.6"/>
<line x1="795.80" y1="988.80" x2="795.80" y2="1007.00" stroke="#000" stroke-width="1.6"/>
<text x="739.30" y="1002.80" font-size="11.6" text-anchor="end" fill="#111">CPNE6</text>
<line x1="926.10" y1="1003.30" x2="1003.40" y2="1003.30" stroke="#e8161e" stroke-width="0.9"/>
<rect x="925.30" y="996.00" width="1.70" height="16.50" fill="#e8161e"/>
<line x1="947.00" y1="994.00" x2="947.00" y2="1012.90" stroke="#e8161e" stroke-width="1.6"/>
<line x1="957.00" y1="994.00" x2="957.00" y2="1012.90" stroke="#e8161e" stroke-width="1.6"/>
<line x1="959.50" y1="994.00" x2="959.50" y2="1012.90" stroke="#e8161e" stroke-width="1.6"/>
<line x1="963.30" y1="994.00" x2="963.30" y2="1012.90" stroke="#e8161e" stroke-width="1.6"/>
<line x1="967.50" y1="994.00" x2="967.50" y2="1012.90" stroke="#e8161e" stroke-width="1.6"/>
<line x1="970.80" y1="994.00" x2="970.80" y2="1012.90" stroke="#e8161e" stroke-width="1.6"/>
<line x1="993.40" y1="994.00" x2="993.40" y2="1012.90" stroke="#e8161e" stroke-width="1.6"/>
<line x1="995.90" y1="994.00" x2="995.90" y2="1012.90" stroke="#e8161e" stroke-width="1.6"/>
<rect x="998.40" y="994.00" width="5.00" height="18.90" fill="#e8161e"/>
<path d="M926.10,1003.30 L926.10,986.50 L934.20,986.50" stroke="#e8161e" stroke-width="1.1" fill="none"/>
<path d="M932.50,983.70 L935.70,986.50 L932.50,989.30" stroke="#e8161e" stroke-width="1.1" fill="none"/>
<text x="915.60" y="1007.10" font-size="11.5" text-anchor="end" fill="#111">PCK2</text>
<line x1="541.00" y1="1026.30" x2="1004.70" y2="1026.30" stroke="#555" stroke-width="1"/>
<line x1="573.20" y1="1026.30" x2="573.20" y2="1030.80" stroke="#555" stroke-width="1"/>
<line x1="612.80" y1="1026.30" x2="612.80" y2="1030.80" stroke="#555" stroke-width="1"/>
<line x1="652.50" y1="1026.30" x2="652.50" y2="1030.80" stroke="#555" stroke-width="1"/>
<line x1="692.30" y1="1026.30" x2="692.30" y2="1030.80" stroke="#555" stroke-width="1"/>
<line x1="731.50" y1="1026.30" x2="731.50" y2="1030.80" stroke="#555" stroke-width="1"/>
<line x1="771.40" y1="1026.30" x2="771.40" y2="1030.80" stroke="#555" stroke-width="1"/>
<line x1="811.90" y1="1026.30" x2="811.90" y2="1030.80" stroke="#555" stroke-width="1"/>
<line x1="851.60" y1="1026.30" x2="851.60" y2="1030.80" stroke="#555" stroke-width="1"/>
<line x1="891.70" y1="1026.30" x2="891.70" y2="1030.80" stroke="#555" stroke-width="1"/>
<line x1="931.10" y1="1026.30" x2="931.10" y2="1030.80" stroke="#555" stroke-width="1"/>
<line x1="971.30" y1="1026.30" x2="971.30" y2="1030.80" stroke="#555" stroke-width="1"/>
<text x="653.10" y="1041.70" font-size="10.3" text-anchor="middle" fill="#111">24,060 kb</text>
<text x="812.50" y="1041.70" font-size="10.3" text-anchor="middle" fill="#111">24,080 kb</text>
<text x="971.90" y="1041.70" font-size="10.3" text-anchor="middle" fill="#111">24,100 kb</text>
<line x1="544.10" y1="748.30" x2="1008.40" y2="748.30" stroke="#222" stroke-width="1.1"/>
<line x1="544.10" y1="1050.80" x2="1008.40" y2="1050.80" stroke="#666" stroke-width="1.5"/>
<line x1="544.10" y1="747.80" x2="544.10" y2="1051.50" stroke="#222" stroke-width="1.1"/>
<line x1="1008.40" y1="747.80" x2="1008.40" y2="1051.50" stroke="#222" stroke-width="1.1"/>
</svg></body></html>
